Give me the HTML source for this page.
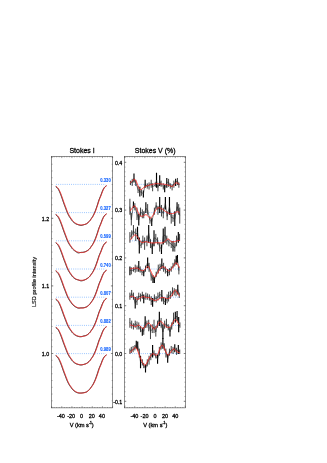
<!DOCTYPE html><html><head><meta charset="utf-8"><style>html,body{margin:0;padding:0;background:#fff}svg{display:block;will-change:transform;transform:translateZ(0)}</style></head><body><svg width="327" height="463" viewBox="0 0 327 463">
<rect width="100%" height="100%" fill="#fff"/>
<g fill="none" stroke="#333" stroke-width="0.5">
<path d="M51.60 156.50 v1.60 M51.60 407.85 v-1.60 M54.14 156.50 v0.80 M54.14 407.85 v-0.80 M56.68 156.50 v0.80 M56.68 407.85 v-0.80 M59.22 156.50 v0.80 M59.22 407.85 v-0.80 M61.77 156.50 v1.60 M61.77 407.85 v-1.60 M64.31 156.50 v0.80 M64.31 407.85 v-0.80 M66.85 156.50 v0.80 M66.85 407.85 v-0.80 M69.39 156.50 v0.80 M69.39 407.85 v-0.80 M71.93 156.50 v1.60 M71.93 407.85 v-1.60 M74.47 156.50 v0.80 M74.47 407.85 v-0.80 M77.02 156.50 v0.80 M77.02 407.85 v-0.80 M79.56 156.50 v0.80 M79.56 407.85 v-0.80 M82.10 156.50 v1.60 M82.10 407.85 v-1.60 M84.64 156.50 v0.80 M84.64 407.85 v-0.80 M87.18 156.50 v0.80 M87.18 407.85 v-0.80 M89.72 156.50 v0.80 M89.72 407.85 v-0.80 M92.27 156.50 v1.60 M92.27 407.85 v-1.60 M94.81 156.50 v0.80 M94.81 407.85 v-0.80 M97.35 156.50 v0.80 M97.35 407.85 v-0.80 M99.89 156.50 v0.80 M99.89 407.85 v-0.80 M102.43 156.50 v1.60 M102.43 407.85 v-1.60 M104.97 156.50 v0.80 M104.97 407.85 v-0.80 M107.52 156.50 v0.80 M107.52 407.85 v-0.80 M110.06 156.50 v0.80 M110.06 407.85 v-0.80 M112.60 156.50 v1.60 M112.60 407.85 v-1.60 M51.60 353.50 h1.7 M112.60 353.50 h-1.7 M51.60 285.90 h1.7 M112.60 285.90 h-1.7 M51.60 218.30 h1.7 M112.60 218.30 h-1.7 M51.60 407.58 h0.85 M112.60 407.58 h-0.85 M51.60 400.82 h0.85 M112.60 400.82 h-0.85 M51.60 394.06 h0.85 M112.60 394.06 h-0.85 M51.60 387.30 h0.85 M112.60 387.30 h-0.85 M51.60 380.54 h0.85 M112.60 380.54 h-0.85 M51.60 373.78 h0.85 M112.60 373.78 h-0.85 M51.60 367.02 h0.85 M112.60 367.02 h-0.85 M51.60 360.26 h0.85 M112.60 360.26 h-0.85 M51.60 353.50 h0.85 M112.60 353.50 h-0.85 M51.60 346.74 h0.85 M112.60 346.74 h-0.85 M51.60 339.98 h0.85 M112.60 339.98 h-0.85 M51.60 333.22 h0.85 M112.60 333.22 h-0.85 M51.60 326.46 h0.85 M112.60 326.46 h-0.85 M51.60 319.70 h0.85 M112.60 319.70 h-0.85 M51.60 312.94 h0.85 M112.60 312.94 h-0.85 M51.60 306.18 h0.85 M112.60 306.18 h-0.85 M51.60 299.42 h0.85 M112.60 299.42 h-0.85 M51.60 292.66 h0.85 M112.60 292.66 h-0.85 M51.60 285.90 h0.85 M112.60 285.90 h-0.85 M51.60 279.14 h0.85 M112.60 279.14 h-0.85 M51.60 272.38 h0.85 M112.60 272.38 h-0.85 M51.60 265.62 h0.85 M112.60 265.62 h-0.85 M51.60 258.86 h0.85 M112.60 258.86 h-0.85 M51.60 252.10 h0.85 M112.60 252.10 h-0.85 M51.60 245.34 h0.85 M112.60 245.34 h-0.85 M51.60 238.58 h0.85 M112.60 238.58 h-0.85 M51.60 231.82 h0.85 M112.60 231.82 h-0.85 M51.60 225.06 h0.85 M112.60 225.06 h-0.85 M51.60 218.30 h0.85 M112.60 218.30 h-0.85 M51.60 211.54 h0.85 M112.60 211.54 h-0.85 M51.60 204.78 h0.85 M112.60 204.78 h-0.85 M51.60 198.02 h0.85 M112.60 198.02 h-0.85 M51.60 191.26 h0.85 M112.60 191.26 h-0.85 M51.60 184.50 h0.85 M112.60 184.50 h-0.85 M51.60 177.74 h0.85 M112.60 177.74 h-0.85 M51.60 170.98 h0.85 M112.60 170.98 h-0.85 M51.60 164.22 h0.85 M112.60 164.22 h-0.85 M51.60 157.46 h0.85 M112.60 157.46 h-0.85"/>
<path d="M124.60 156.50 v1.60 M124.60 407.85 v-1.60 M127.13 156.50 v0.80 M127.13 407.85 v-0.80 M129.67 156.50 v0.80 M129.67 407.85 v-0.80 M132.20 156.50 v0.80 M132.20 407.85 v-0.80 M134.73 156.50 v1.60 M134.73 407.85 v-1.60 M137.27 156.50 v0.80 M137.27 407.85 v-0.80 M139.80 156.50 v0.80 M139.80 407.85 v-0.80 M142.33 156.50 v0.80 M142.33 407.85 v-0.80 M144.87 156.50 v1.60 M144.87 407.85 v-1.60 M147.40 156.50 v0.80 M147.40 407.85 v-0.80 M149.93 156.50 v0.80 M149.93 407.85 v-0.80 M152.47 156.50 v0.80 M152.47 407.85 v-0.80 M155.00 156.50 v1.60 M155.00 407.85 v-1.60 M157.53 156.50 v0.80 M157.53 407.85 v-0.80 M160.07 156.50 v0.80 M160.07 407.85 v-0.80 M162.60 156.50 v0.80 M162.60 407.85 v-0.80 M165.13 156.50 v1.60 M165.13 407.85 v-1.60 M167.67 156.50 v0.80 M167.67 407.85 v-0.80 M170.20 156.50 v0.80 M170.20 407.85 v-0.80 M172.73 156.50 v0.80 M172.73 407.85 v-0.80 M175.27 156.50 v1.60 M175.27 407.85 v-1.60 M177.80 156.50 v0.80 M177.80 407.85 v-0.80 M180.33 156.50 v0.80 M180.33 407.85 v-0.80 M182.87 156.50 v0.80 M182.87 407.85 v-0.80 M185.40 156.50 v1.60 M185.40 407.85 v-1.60 M124.60 401.30 h1.7 M185.40 401.30 h-1.7 M124.60 353.50 h1.7 M185.40 353.50 h-1.7 M124.60 305.70 h1.7 M185.40 305.70 h-1.7 M124.60 257.90 h1.7 M185.40 257.90 h-1.7 M124.60 210.10 h1.7 M185.40 210.10 h-1.7 M124.60 162.30 h1.7 M185.40 162.30 h-1.7 M124.60 406.08 h0.85 M185.40 406.08 h-0.85 M124.60 401.30 h0.85 M185.40 401.30 h-0.85 M124.60 396.52 h0.85 M185.40 396.52 h-0.85 M124.60 391.74 h0.85 M185.40 391.74 h-0.85 M124.60 386.96 h0.85 M185.40 386.96 h-0.85 M124.60 382.18 h0.85 M185.40 382.18 h-0.85 M124.60 377.40 h0.85 M185.40 377.40 h-0.85 M124.60 372.62 h0.85 M185.40 372.62 h-0.85 M124.60 367.84 h0.85 M185.40 367.84 h-0.85 M124.60 363.06 h0.85 M185.40 363.06 h-0.85 M124.60 358.28 h0.85 M185.40 358.28 h-0.85 M124.60 353.50 h0.85 M185.40 353.50 h-0.85 M124.60 348.72 h0.85 M185.40 348.72 h-0.85 M124.60 343.94 h0.85 M185.40 343.94 h-0.85 M124.60 339.16 h0.85 M185.40 339.16 h-0.85 M124.60 334.38 h0.85 M185.40 334.38 h-0.85 M124.60 329.60 h0.85 M185.40 329.60 h-0.85 M124.60 324.82 h0.85 M185.40 324.82 h-0.85 M124.60 320.04 h0.85 M185.40 320.04 h-0.85 M124.60 315.26 h0.85 M185.40 315.26 h-0.85 M124.60 310.48 h0.85 M185.40 310.48 h-0.85 M124.60 305.70 h0.85 M185.40 305.70 h-0.85 M124.60 300.92 h0.85 M185.40 300.92 h-0.85 M124.60 296.14 h0.85 M185.40 296.14 h-0.85 M124.60 291.36 h0.85 M185.40 291.36 h-0.85 M124.60 286.58 h0.85 M185.40 286.58 h-0.85 M124.60 281.80 h0.85 M185.40 281.80 h-0.85 M124.60 277.02 h0.85 M185.40 277.02 h-0.85 M124.60 272.24 h0.85 M185.40 272.24 h-0.85 M124.60 267.46 h0.85 M185.40 267.46 h-0.85 M124.60 262.68 h0.85 M185.40 262.68 h-0.85 M124.60 257.90 h0.85 M185.40 257.90 h-0.85 M124.60 253.12 h0.85 M185.40 253.12 h-0.85 M124.60 248.34 h0.85 M185.40 248.34 h-0.85 M124.60 243.56 h0.85 M185.40 243.56 h-0.85 M124.60 238.78 h0.85 M185.40 238.78 h-0.85 M124.60 234.00 h0.85 M185.40 234.00 h-0.85 M124.60 229.22 h0.85 M185.40 229.22 h-0.85 M124.60 224.44 h0.85 M185.40 224.44 h-0.85 M124.60 219.66 h0.85 M185.40 219.66 h-0.85 M124.60 214.88 h0.85 M185.40 214.88 h-0.85 M124.60 210.10 h0.85 M185.40 210.10 h-0.85 M124.60 205.32 h0.85 M185.40 205.32 h-0.85 M124.60 200.54 h0.85 M185.40 200.54 h-0.85 M124.60 195.76 h0.85 M185.40 195.76 h-0.85 M124.60 190.98 h0.85 M185.40 190.98 h-0.85 M124.60 186.20 h0.85 M185.40 186.20 h-0.85 M124.60 181.42 h0.85 M185.40 181.42 h-0.85 M124.60 176.64 h0.85 M185.40 176.64 h-0.85 M124.60 171.86 h0.85 M185.40 171.86 h-0.85 M124.60 167.08 h0.85 M185.40 167.08 h-0.85 M124.60 162.30 h0.85 M185.40 162.30 h-0.85 M124.60 157.52 h0.85 M185.40 157.52 h-0.85"/>
</g>
<g fill="none" stroke="#4a4a4a" stroke-width="0.62">
<rect x="51.60" y="156.50" width="61.00" height="251.35"/>
<rect x="124.60" y="156.50" width="60.80" height="251.35"/>
</g>
<g fill="none" stroke="#6aaaff" stroke-width="0.8" stroke-dasharray="0.8 1.35">
<path d="M56.10 184.40 H105.70"/>
<path d="M130.00 184.40 H180.00"/>
<path d="M56.10 212.60 H105.70"/>
<path d="M130.00 212.60 H180.00"/>
<path d="M56.10 240.80 H105.70"/>
<path d="M130.00 240.80 H180.00"/>
<path d="M56.10 269.00 H105.70"/>
<path d="M130.00 269.00 H180.00"/>
<path d="M56.10 297.20 H105.70"/>
<path d="M130.00 297.20 H180.00"/>
<path d="M56.10 325.40 H105.70"/>
<path d="M130.00 325.40 H180.00"/>
<path d="M56.10 353.60 H105.70"/>
<path d="M130.00 353.60 H180.00"/>
</g>
<path d="M55.60 186.34 L55.79 186.52 L56.04 186.75 L56.35 187.03 L56.68 187.34 L57.03 187.67 L57.38 188.04 L57.71 188.41 L58.00 188.80 L58.26 189.21 L58.51 189.64 L58.75 190.09 L58.99 190.56 L59.22 191.05 L59.44 191.55 L59.67 192.07 L59.90 192.60 L60.13 193.14 L60.36 193.70 L60.58 194.27 L60.81 194.86 L61.03 195.46 L61.25 196.07 L61.48 196.69 L61.70 197.31 L61.92 197.94 L62.15 198.58 L62.37 199.24 L62.59 199.90 L62.82 200.56 L63.04 201.23 L63.27 201.89 L63.50 202.54 L63.73 203.19 L63.97 203.84 L64.21 204.48 L64.45 205.13 L64.69 205.78 L64.93 206.41 L65.17 207.04 L65.40 207.66 L65.63 208.28 L65.86 208.89 L66.08 209.51 L66.31 210.11 L66.53 210.70 L66.75 211.28 L66.98 211.84 L67.20 212.38 L67.42 212.89 L67.65 213.39 L67.87 213.87 L68.09 214.34 L68.32 214.79 L68.54 215.23 L68.77 215.65 L69.00 216.07 L69.23 216.47 L69.47 216.85 L69.71 217.22 L69.95 217.58 L70.19 217.93 L70.43 218.27 L70.67 218.60 L70.90 218.94 L71.12 219.27 L71.33 219.59 L71.54 219.90 L71.74 220.21 L71.96 220.51 L72.18 220.81 L72.43 221.10 L72.70 221.40 L73.00 221.70 L73.33 222.00 L73.68 222.31 L74.04 222.61 L74.41 222.90 L74.78 223.17 L75.15 223.43 L75.50 223.65 L75.84 223.85 L76.18 224.02 L76.52 224.17 L76.85 224.30 L77.18 224.42 L77.52 224.53 L77.86 224.64 L78.20 224.75 L78.55 224.86 L78.90 224.98 L79.25 225.09 L79.60 225.20 L79.95 225.29 L80.30 225.36 L80.65 225.41 L81.00 225.42 L81.34 225.41 L81.68 225.36 L82.02 225.28 L82.35 225.19 L82.68 225.09 L83.02 224.98 L83.36 224.86 L83.70 224.76 L84.05 224.66 L84.40 224.57 L84.75 224.48 L85.10 224.38 L85.45 224.27 L85.80 224.14 L86.15 223.98 L86.50 223.79 L86.85 223.56 L87.20 223.30 L87.56 223.00 L87.91 222.69 L88.26 222.36 L88.59 222.03 L88.91 221.71 L89.20 221.40 L89.47 221.10 L89.71 220.80 L89.94 220.50 L90.15 220.20 L90.36 219.89 L90.56 219.58 L90.78 219.27 L91.00 218.94 L91.23 218.61 L91.46 218.29 L91.69 217.97 L91.92 217.64 L92.16 217.30 L92.40 216.92 L92.65 216.52 L92.90 216.07 L93.16 215.57 L93.43 215.04 L93.71 214.48 L93.99 213.88 L94.28 213.27 L94.56 212.64 L94.83 212.00 L95.10 211.35 L95.36 210.69 L95.62 210.01 L95.87 209.31 L96.12 208.59 L96.37 207.87 L96.62 207.15 L96.86 206.43 L97.10 205.72 L97.33 205.00 L97.56 204.28 L97.79 203.56 L98.01 202.84 L98.23 202.12 L98.45 201.42 L98.67 200.74 L98.90 200.08 L99.13 199.44 L99.37 198.83 L99.61 198.24 L99.85 197.66 L100.09 197.09 L100.33 196.52 L100.57 195.95 L100.80 195.36 L101.03 194.76 L101.26 194.15 L101.48 193.53 L101.71 192.91 L101.93 192.30 L102.15 191.72 L102.38 191.16 L102.60 190.65 L102.82 190.17 L103.05 189.71 L103.27 189.28 L103.49 188.87 L103.71 188.49 L103.94 188.13 L104.17 187.79 L104.40 187.47 L104.65 187.17 L104.93 186.89 L105.22 186.63 L105.51 186.40 L105.79 186.19 L106.04 186.01 L106.24 185.85 L106.40 185.73" fill="none" stroke="#000" stroke-width="0.85" stroke-linejoin="round"/>
<path d="M56.00 186.14 L56.19 186.32 L56.44 186.55 L56.75 186.83 L57.08 187.14 L57.43 187.47 L57.78 187.84 L58.11 188.21 L58.40 188.60 L58.66 189.01 L58.91 189.44 L59.15 189.89 L59.39 190.36 L59.62 190.85 L59.84 191.35 L60.07 191.87 L60.30 192.40 L60.53 192.94 L60.76 193.50 L60.98 194.07 L61.21 194.66 L61.43 195.26 L61.65 195.87 L61.88 196.49 L62.10 197.11 L62.32 197.74 L62.55 198.38 L62.77 199.04 L62.99 199.70 L63.22 200.36 L63.44 201.03 L63.67 201.69 L63.90 202.34 L64.13 202.99 L64.37 203.64 L64.61 204.28 L64.85 204.93 L65.09 205.58 L65.33 206.21 L65.57 206.84 L65.80 207.46 L66.03 208.08 L66.26 208.69 L66.48 209.31 L66.71 209.91 L66.93 210.50 L67.15 211.08 L67.38 211.64 L67.60 212.18 L67.82 212.69 L68.05 213.19 L68.27 213.67 L68.49 214.14 L68.72 214.59 L68.94 215.03 L69.17 215.45 L69.40 215.87 L69.63 216.27 L69.87 216.65 L70.11 217.02 L70.35 217.38 L70.59 217.73 L70.83 218.07 L71.07 218.40 L71.30 218.74 L71.52 219.07 L71.73 219.39 L71.94 219.70 L72.14 220.01 L72.36 220.31 L72.58 220.61 L72.83 220.90 L73.10 221.20 L73.40 221.50 L73.73 221.80 L74.08 222.11 L74.44 222.41 L74.81 222.70 L75.18 222.97 L75.55 223.23 L75.90 223.45 L76.24 223.65 L76.58 223.83 L76.92 223.99 L77.25 224.14 L77.58 224.27 L77.92 224.38 L78.26 224.49 L78.60 224.58 L78.95 224.66 L79.30 224.73 L79.65 224.78 L80.00 224.82 L80.35 224.85 L80.70 224.87 L81.05 224.88 L81.40 224.89 L81.74 224.88 L82.08 224.87 L82.42 224.85 L82.75 224.82 L83.08 224.78 L83.42 224.73 L83.76 224.66 L84.10 224.58 L84.45 224.49 L84.80 224.38 L85.15 224.27 L85.50 224.14 L85.85 223.99 L86.20 223.83 L86.55 223.65 L86.90 223.45 L87.25 223.23 L87.60 222.97 L87.96 222.70 L88.31 222.41 L88.66 222.11 L88.99 221.80 L89.31 221.50 L89.60 221.20 L89.87 220.90 L90.11 220.61 L90.34 220.31 L90.55 220.01 L90.76 219.70 L90.96 219.39 L91.18 219.07 L91.40 218.74 L91.63 218.41 L91.86 218.09 L92.09 217.77 L92.33 217.44 L92.56 217.10 L92.80 216.72 L93.05 216.32 L93.30 215.87 L93.56 215.37 L93.83 214.84 L94.11 214.28 L94.39 213.68 L94.68 213.07 L94.96 212.44 L95.23 211.80 L95.50 211.15 L95.76 210.49 L96.02 209.81 L96.27 209.11 L96.53 208.39 L96.77 207.67 L97.02 206.95 L97.26 206.23 L97.50 205.52 L97.73 204.80 L97.96 204.08 L98.19 203.36 L98.41 202.64 L98.63 201.92 L98.85 201.22 L99.07 200.54 L99.30 199.88 L99.53 199.24 L99.77 198.63 L100.01 198.04 L100.25 197.46 L100.49 196.89 L100.73 196.32 L100.97 195.75 L101.20 195.16 L101.43 194.56 L101.66 193.95 L101.88 193.33 L102.11 192.71 L102.33 192.10 L102.55 191.52 L102.78 190.96 L103.00 190.45 L103.22 189.97 L103.45 189.51 L103.67 189.08 L103.89 188.67 L104.11 188.29 L104.34 187.93 L104.57 187.59 L104.80 187.27 L105.05 186.97 L105.33 186.69 L105.62 186.43 L105.91 186.20 L106.19 185.99 L106.44 185.81 L106.64 185.65 L106.80 185.53" fill="none" stroke="#f42424" stroke-width="0.9" stroke-linejoin="round"/>
<path d="M55.60 214.52 L55.79 214.70 L56.04 214.93 L56.35 215.20 L56.68 215.50 L57.03 215.84 L57.38 216.19 L57.71 216.57 L58.00 216.95 L58.26 217.35 L58.51 217.77 L58.75 218.22 L58.99 218.68 L59.22 219.16 L59.44 219.66 L59.67 220.17 L59.90 220.69 L60.13 221.23 L60.36 221.78 L60.58 222.35 L60.81 222.93 L61.03 223.53 L61.25 224.13 L61.48 224.74 L61.70 225.35 L61.92 225.97 L62.15 226.61 L62.37 227.25 L62.59 227.90 L62.82 228.56 L63.04 229.21 L63.27 229.87 L63.50 230.51 L63.73 231.15 L63.97 231.79 L64.21 232.43 L64.45 233.07 L64.69 233.71 L64.93 234.34 L65.17 234.96 L65.40 235.57 L65.63 236.18 L65.86 236.79 L66.08 237.39 L66.31 237.99 L66.53 238.57 L66.75 239.14 L66.98 239.69 L67.20 240.23 L67.42 240.73 L67.65 241.23 L67.87 241.70 L68.09 242.16 L68.32 242.61 L68.54 243.04 L68.77 243.46 L69.00 243.87 L69.23 244.26 L69.47 244.64 L69.71 245.01 L69.95 245.36 L70.19 245.70 L70.43 246.04 L70.67 246.37 L70.90 246.70 L71.12 247.03 L71.33 247.34 L71.54 247.65 L71.74 247.95 L71.96 248.25 L72.18 248.55 L72.43 248.84 L72.70 249.13 L73.00 249.42 L73.33 249.72 L73.68 250.01 L74.04 250.30 L74.41 250.58 L74.78 250.86 L75.15 251.12 L75.50 251.36 L75.84 251.59 L76.18 251.83 L76.52 252.06 L76.85 252.27 L77.18 252.47 L77.52 252.63 L77.86 252.76 L78.20 252.85 L78.55 252.88 L78.90 252.86 L79.25 252.81 L79.60 252.72 L79.95 252.62 L80.30 252.52 L80.65 252.43 L81.00 252.37 L81.34 252.33 L81.68 252.31 L82.02 252.29 L82.35 252.27 L82.68 252.25 L83.02 252.22 L83.36 252.17 L83.70 252.11 L84.05 252.02 L84.40 251.92 L84.75 251.82 L85.10 251.70 L85.45 251.56 L85.80 251.41 L86.15 251.25 L86.50 251.07 L86.85 250.88 L87.20 250.66 L87.56 250.43 L87.91 250.19 L88.26 249.94 L88.59 249.67 L88.91 249.40 L89.20 249.13 L89.47 248.85 L89.71 248.57 L89.94 248.27 L90.15 247.97 L90.36 247.66 L90.56 247.35 L90.78 247.03 L91.00 246.70 L91.23 246.38 L91.46 246.06 L91.69 245.75 L91.92 245.42 L92.16 245.08 L92.40 244.71 L92.65 244.31 L92.90 243.87 L93.16 243.38 L93.43 242.85 L93.71 242.30 L93.99 241.71 L94.28 241.11 L94.56 240.48 L94.83 239.85 L95.10 239.21 L95.36 238.56 L95.62 237.89 L95.87 237.19 L96.12 236.49 L96.37 235.77 L96.62 235.06 L96.86 234.35 L97.10 233.65 L97.33 232.95 L97.56 232.23 L97.79 231.52 L98.01 230.81 L98.23 230.10 L98.45 229.41 L98.67 228.73 L98.90 228.08 L99.13 227.46 L99.37 226.85 L99.61 226.27 L99.85 225.70 L100.09 225.13 L100.33 224.57 L100.57 224.00 L100.80 223.43 L101.03 222.83 L101.26 222.23 L101.48 221.61 L101.71 221.00 L101.93 220.41 L102.15 219.83 L102.38 219.28 L102.60 218.77 L102.82 218.30 L103.05 217.85 L103.27 217.42 L103.49 217.02 L103.71 216.64 L103.94 216.28 L104.17 215.95 L104.40 215.63 L104.65 215.34 L104.93 215.06 L105.22 214.81 L105.51 214.58 L105.79 214.37 L106.04 214.19 L106.24 214.04 L106.40 213.91" fill="none" stroke="#000" stroke-width="0.85" stroke-linejoin="round"/>
<path d="M56.00 214.32 L56.19 214.50 L56.44 214.73 L56.75 215.00 L57.08 215.30 L57.43 215.64 L57.78 215.99 L58.11 216.37 L58.40 216.75 L58.66 217.15 L58.91 217.57 L59.15 218.02 L59.39 218.48 L59.62 218.96 L59.84 219.46 L60.07 219.97 L60.30 220.49 L60.53 221.03 L60.76 221.58 L60.98 222.15 L61.21 222.73 L61.43 223.33 L61.65 223.93 L61.88 224.54 L62.10 225.15 L62.32 225.77 L62.55 226.41 L62.77 227.05 L62.99 227.70 L63.22 228.36 L63.44 229.01 L63.67 229.67 L63.90 230.31 L64.13 230.95 L64.37 231.59 L64.61 232.23 L64.85 232.87 L65.09 233.51 L65.33 234.14 L65.57 234.76 L65.80 235.37 L66.03 235.98 L66.26 236.59 L66.48 237.19 L66.71 237.79 L66.93 238.37 L67.15 238.94 L67.38 239.49 L67.60 240.03 L67.82 240.53 L68.05 241.03 L68.27 241.50 L68.49 241.96 L68.72 242.41 L68.94 242.84 L69.17 243.26 L69.40 243.67 L69.63 244.06 L69.87 244.44 L70.11 244.81 L70.35 245.16 L70.59 245.50 L70.83 245.84 L71.07 246.17 L71.30 246.50 L71.52 246.83 L71.73 247.14 L71.94 247.45 L72.14 247.75 L72.36 248.05 L72.58 248.35 L72.83 248.64 L73.10 248.93 L73.40 249.23 L73.73 249.53 L74.08 249.83 L74.44 250.13 L74.81 250.41 L75.18 250.68 L75.55 250.93 L75.90 251.16 L76.24 251.36 L76.58 251.53 L76.92 251.69 L77.25 251.83 L77.58 251.96 L77.92 252.08 L78.26 252.18 L78.60 252.27 L78.95 252.35 L79.30 252.42 L79.65 252.47 L80.00 252.51 L80.35 252.54 L80.70 252.56 L81.05 252.57 L81.40 252.57 L81.74 252.57 L82.08 252.56 L82.42 252.54 L82.75 252.51 L83.08 252.47 L83.42 252.42 L83.76 252.35 L84.10 252.27 L84.45 252.18 L84.80 252.08 L85.15 251.96 L85.50 251.83 L85.85 251.69 L86.20 251.53 L86.55 251.36 L86.90 251.16 L87.25 250.93 L87.60 250.68 L87.96 250.41 L88.31 250.13 L88.66 249.83 L88.99 249.53 L89.31 249.23 L89.60 248.93 L89.87 248.64 L90.11 248.35 L90.34 248.05 L90.55 247.75 L90.76 247.45 L90.96 247.14 L91.18 246.83 L91.40 246.50 L91.63 246.18 L91.86 245.86 L92.09 245.55 L92.33 245.22 L92.56 244.88 L92.80 244.51 L93.05 244.11 L93.30 243.67 L93.56 243.18 L93.83 242.65 L94.11 242.10 L94.39 241.51 L94.68 240.91 L94.96 240.28 L95.23 239.65 L95.50 239.01 L95.76 238.36 L96.02 237.69 L96.27 236.99 L96.53 236.29 L96.77 235.57 L97.02 234.86 L97.26 234.15 L97.50 233.45 L97.73 232.75 L97.96 232.03 L98.19 231.32 L98.41 230.61 L98.63 229.90 L98.85 229.21 L99.07 228.53 L99.30 227.88 L99.53 227.26 L99.77 226.65 L100.01 226.07 L100.25 225.50 L100.49 224.93 L100.73 224.37 L100.97 223.80 L101.20 223.23 L101.43 222.63 L101.66 222.03 L101.88 221.41 L102.11 220.80 L102.33 220.21 L102.55 219.63 L102.78 219.08 L103.00 218.57 L103.22 218.10 L103.45 217.65 L103.67 217.22 L103.89 216.82 L104.11 216.44 L104.34 216.08 L104.57 215.75 L104.80 215.43 L105.05 215.14 L105.33 214.86 L105.62 214.61 L105.91 214.38 L106.19 214.17 L106.44 213.99 L106.64 213.84 L106.80 213.71" fill="none" stroke="#f42424" stroke-width="0.9" stroke-linejoin="round"/>
<path d="M55.60 242.70 L55.79 242.88 L56.04 243.10 L56.35 243.37 L56.68 243.67 L57.03 244.00 L57.38 244.35 L57.71 244.72 L58.00 245.10 L58.26 245.49 L58.51 245.91 L58.75 246.35 L58.99 246.81 L59.22 247.29 L59.44 247.78 L59.67 248.29 L59.90 248.80 L60.13 249.33 L60.36 249.88 L60.58 250.44 L60.81 251.01 L61.03 251.60 L61.25 252.19 L61.48 252.79 L61.70 253.40 L61.92 254.01 L62.15 254.64 L62.37 255.28 L62.59 255.92 L62.82 256.57 L63.04 257.22 L63.27 257.86 L63.50 258.50 L63.73 259.13 L63.97 259.77 L64.21 260.40 L64.45 261.03 L64.69 261.66 L64.93 262.28 L65.17 262.89 L65.40 263.50 L65.63 264.10 L65.86 264.70 L66.08 265.30 L66.31 265.89 L66.53 266.47 L66.75 267.03 L66.98 267.58 L67.20 268.10 L67.42 268.60 L67.65 269.09 L67.87 269.56 L68.09 270.01 L68.32 270.45 L68.54 270.88 L68.77 271.30 L69.00 271.70 L69.23 272.09 L69.47 272.47 L69.71 272.83 L69.95 273.17 L70.19 273.51 L70.43 273.85 L70.67 274.17 L70.90 274.50 L71.12 274.82 L71.33 275.13 L71.54 275.44 L71.74 275.74 L71.96 276.03 L72.18 276.32 L72.43 276.61 L72.70 276.90 L73.00 277.19 L73.33 277.50 L73.68 277.80 L74.04 278.10 L74.41 278.39 L74.78 278.65 L75.15 278.89 L75.50 279.10 L75.84 279.27 L76.18 279.40 L76.52 279.50 L76.85 279.59 L77.18 279.66 L77.52 279.73 L77.86 279.81 L78.20 279.91 L78.55 280.03 L78.90 280.17 L79.25 280.31 L79.60 280.46 L79.95 280.59 L80.30 280.70 L80.65 280.79 L81.00 280.83 L81.34 280.84 L81.68 280.82 L82.02 280.77 L82.35 280.70 L82.68 280.61 L83.02 280.51 L83.36 280.39 L83.70 280.27 L84.05 280.14 L84.40 280.00 L84.75 279.84 L85.10 279.67 L85.45 279.49 L85.80 279.29 L86.15 279.09 L86.50 278.88 L86.85 278.67 L87.20 278.44 L87.56 278.20 L87.91 277.96 L88.26 277.70 L88.59 277.44 L88.91 277.17 L89.20 276.90 L89.47 276.62 L89.71 276.34 L89.94 276.05 L90.15 275.75 L90.36 275.45 L90.56 275.14 L90.78 274.82 L91.00 274.50 L91.23 274.18 L91.46 273.87 L91.69 273.56 L91.92 273.24 L92.16 272.90 L92.40 272.54 L92.65 272.14 L92.90 271.70 L93.16 271.22 L93.43 270.70 L93.71 270.15 L93.99 269.57 L94.28 268.97 L94.56 268.36 L94.83 267.73 L95.10 267.10 L95.36 266.46 L95.62 265.79 L95.87 265.10 L96.12 264.41 L96.37 263.70 L96.62 263.00 L96.86 262.29 L97.10 261.60 L97.33 260.91 L97.56 260.20 L97.79 259.50 L98.01 258.79 L98.23 258.10 L98.45 257.41 L98.67 256.74 L98.90 256.10 L99.13 255.48 L99.37 254.89 L99.61 254.31 L99.85 253.74 L100.09 253.19 L100.33 252.63 L100.57 252.07 L100.80 251.50 L101.03 250.91 L101.26 250.31 L101.48 249.71 L101.71 249.11 L101.93 248.52 L102.15 247.94 L102.38 247.40 L102.60 246.90 L102.82 246.43 L103.05 245.99 L103.27 245.57 L103.49 245.17 L103.71 244.79 L103.94 244.44 L104.17 244.11 L104.40 243.80 L104.65 243.51 L104.93 243.24 L105.22 242.99 L105.51 242.76 L105.79 242.55 L106.04 242.37 L106.24 242.22 L106.40 242.10" fill="none" stroke="#000" stroke-width="0.85" stroke-linejoin="round"/>
<path d="M56.00 242.50 L56.19 242.68 L56.44 242.90 L56.75 243.17 L57.08 243.47 L57.43 243.80 L57.78 244.15 L58.11 244.52 L58.40 244.90 L58.66 245.29 L58.91 245.71 L59.15 246.15 L59.39 246.61 L59.62 247.09 L59.84 247.58 L60.07 248.09 L60.30 248.60 L60.53 249.13 L60.76 249.68 L60.98 250.24 L61.21 250.81 L61.43 251.40 L61.65 251.99 L61.88 252.59 L62.10 253.20 L62.32 253.81 L62.55 254.44 L62.77 255.08 L62.99 255.73 L63.22 256.37 L63.44 257.02 L63.67 257.66 L63.90 258.30 L64.13 258.93 L64.37 259.57 L64.61 260.20 L64.85 260.83 L65.09 261.46 L65.33 262.08 L65.57 262.69 L65.80 263.30 L66.03 263.90 L66.26 264.50 L66.48 265.10 L66.71 265.69 L66.93 266.27 L67.15 266.83 L67.38 267.38 L67.60 267.90 L67.82 268.40 L68.05 268.89 L68.27 269.36 L68.49 269.81 L68.72 270.25 L68.94 270.68 L69.17 271.10 L69.40 271.50 L69.63 271.89 L69.87 272.27 L70.11 272.63 L70.35 272.98 L70.59 273.31 L70.83 273.65 L71.07 273.97 L71.30 274.30 L71.52 274.62 L71.73 274.93 L71.94 275.24 L72.14 275.54 L72.36 275.83 L72.58 276.12 L72.83 276.41 L73.10 276.70 L73.40 276.99 L73.73 277.29 L74.08 277.59 L74.44 277.88 L74.81 278.16 L75.18 278.43 L75.55 278.68 L75.90 278.90 L76.24 279.10 L76.58 279.27 L76.92 279.43 L77.25 279.57 L77.58 279.69 L77.92 279.81 L78.26 279.91 L78.60 280.00 L78.95 280.08 L79.30 280.15 L79.65 280.20 L80.00 280.24 L80.35 280.27 L80.70 280.29 L81.05 280.30 L81.40 280.30 L81.74 280.30 L82.08 280.29 L82.42 280.27 L82.75 280.24 L83.08 280.20 L83.42 280.15 L83.76 280.08 L84.10 280.00 L84.45 279.91 L84.80 279.81 L85.15 279.69 L85.50 279.57 L85.85 279.43 L86.20 279.27 L86.55 279.10 L86.90 278.90 L87.25 278.68 L87.60 278.43 L87.96 278.16 L88.31 277.88 L88.66 277.59 L88.99 277.29 L89.31 276.99 L89.60 276.70 L89.87 276.41 L90.11 276.12 L90.34 275.83 L90.55 275.54 L90.76 275.24 L90.96 274.93 L91.18 274.62 L91.40 274.30 L91.63 273.98 L91.86 273.67 L92.09 273.36 L92.33 273.04 L92.56 272.70 L92.80 272.34 L93.05 271.94 L93.30 271.50 L93.56 271.02 L93.83 270.50 L94.11 269.95 L94.39 269.37 L94.68 268.77 L94.96 268.16 L95.23 267.53 L95.50 266.90 L95.76 266.26 L96.02 265.59 L96.27 264.90 L96.53 264.21 L96.77 263.50 L97.02 262.80 L97.26 262.09 L97.50 261.40 L97.73 260.71 L97.96 260.00 L98.19 259.30 L98.41 258.59 L98.63 257.90 L98.85 257.21 L99.07 256.54 L99.30 255.90 L99.53 255.28 L99.77 254.69 L100.01 254.11 L100.25 253.54 L100.49 252.99 L100.73 252.43 L100.97 251.87 L101.20 251.30 L101.43 250.71 L101.66 250.11 L101.88 249.51 L102.11 248.91 L102.33 248.32 L102.55 247.74 L102.78 247.20 L103.00 246.70 L103.22 246.23 L103.45 245.79 L103.67 245.37 L103.89 244.97 L104.11 244.59 L104.34 244.24 L104.57 243.91 L104.80 243.60 L105.05 243.31 L105.33 243.04 L105.62 242.79 L105.91 242.56 L106.19 242.35 L106.44 242.17 L106.64 242.02 L106.80 241.90" fill="none" stroke="#f42424" stroke-width="0.9" stroke-linejoin="round"/>
<path d="M55.60 270.88 L55.79 271.06 L56.04 271.28 L56.35 271.54 L56.68 271.84 L57.03 272.17 L57.38 272.52 L57.71 272.88 L58.00 273.26 L58.26 273.65 L58.51 274.06 L58.75 274.50 L58.99 274.95 L59.22 275.43 L59.44 275.91 L59.67 276.41 L59.90 276.92 L60.13 277.45 L60.36 277.99 L60.58 278.54 L60.81 279.11 L61.03 279.69 L61.25 280.28 L61.48 280.88 L61.70 281.48 L61.92 282.08 L62.15 282.71 L62.37 283.34 L62.59 283.98 L62.82 284.62 L63.04 285.26 L63.27 285.90 L63.50 286.52 L63.73 287.15 L63.97 287.78 L64.21 288.41 L64.45 289.03 L64.69 289.65 L64.93 290.27 L65.17 290.88 L65.40 291.47 L65.63 292.07 L65.86 292.66 L66.08 293.26 L66.31 293.84 L66.53 294.41 L66.75 294.97 L66.98 295.51 L67.20 296.03 L67.42 296.53 L67.65 297.01 L67.87 297.47 L68.09 297.92 L68.32 298.36 L68.54 298.78 L68.77 299.19 L69.00 299.59 L69.23 299.98 L69.47 300.35 L69.71 300.71 L69.95 301.05 L70.19 301.39 L70.43 301.72 L70.67 302.04 L70.90 302.37 L71.12 302.68 L71.33 302.99 L71.54 303.29 L71.74 303.59 L71.96 303.88 L72.18 304.17 L72.43 304.46 L72.70 304.74 L73.00 305.03 L73.33 305.32 L73.68 305.62 L74.04 305.90 L74.41 306.18 L74.78 306.45 L75.15 306.70 L75.50 306.92 L75.84 307.12 L76.18 307.32 L76.52 307.50 L76.85 307.67 L77.18 307.81 L77.52 307.94 L77.86 308.04 L78.20 308.11 L78.55 308.14 L78.90 308.14 L79.25 308.11 L79.60 308.05 L79.95 307.99 L80.30 307.93 L80.65 307.87 L81.00 307.84 L81.34 307.82 L81.68 307.81 L82.02 307.81 L82.35 307.81 L82.68 307.80 L83.02 307.79 L83.36 307.76 L83.70 307.71 L84.05 307.64 L84.40 307.57 L84.75 307.48 L85.10 307.39 L85.45 307.28 L85.80 307.15 L86.15 307.00 L86.50 306.83 L86.85 306.63 L87.20 306.40 L87.56 306.15 L87.91 305.88 L88.26 305.60 L88.59 305.31 L88.91 305.02 L89.20 304.74 L89.47 304.46 L89.71 304.18 L89.94 303.89 L90.15 303.60 L90.36 303.30 L90.56 302.99 L90.78 302.68 L91.00 302.37 L91.23 302.05 L91.46 301.74 L91.69 301.43 L91.92 301.12 L92.16 300.78 L92.40 300.42 L92.65 300.03 L92.90 299.59 L93.16 299.12 L93.43 298.60 L93.71 298.05 L93.99 297.48 L94.28 296.89 L94.56 296.28 L94.83 295.66 L95.10 295.04 L95.36 294.40 L95.62 293.74 L95.87 293.06 L96.12 292.37 L96.37 291.68 L96.62 290.98 L96.86 290.28 L97.10 289.59 L97.33 288.91 L97.56 288.21 L97.79 287.51 L98.01 286.82 L98.23 286.13 L98.45 285.45 L98.67 284.79 L98.90 284.15 L99.13 283.54 L99.37 282.95 L99.61 282.38 L99.85 281.82 L100.09 281.26 L100.33 280.71 L100.57 280.16 L100.80 279.59 L101.03 279.02 L101.26 278.42 L101.48 277.82 L101.71 277.23 L101.93 276.64 L102.15 276.08 L102.38 275.54 L102.60 275.04 L102.82 274.58 L103.05 274.14 L103.27 273.72 L103.49 273.33 L103.71 272.96 L103.94 272.61 L104.17 272.28 L104.40 271.97 L104.65 271.68 L104.93 271.41 L105.22 271.17 L105.51 270.94 L105.79 270.74 L106.04 270.56 L106.24 270.41 L106.40 270.29" fill="none" stroke="#000" stroke-width="0.85" stroke-linejoin="round"/>
<path d="M56.00 270.68 L56.19 270.86 L56.44 271.08 L56.75 271.34 L57.08 271.64 L57.43 271.97 L57.78 272.32 L58.11 272.68 L58.40 273.06 L58.66 273.45 L58.91 273.86 L59.15 274.30 L59.39 274.75 L59.62 275.23 L59.84 275.71 L60.07 276.21 L60.30 276.72 L60.53 277.25 L60.76 277.79 L60.98 278.34 L61.21 278.91 L61.43 279.49 L61.65 280.08 L61.88 280.68 L62.10 281.28 L62.32 281.88 L62.55 282.51 L62.77 283.14 L62.99 283.78 L63.22 284.42 L63.44 285.06 L63.67 285.70 L63.90 286.32 L64.13 286.95 L64.37 287.58 L64.61 288.21 L64.85 288.83 L65.09 289.45 L65.33 290.07 L65.57 290.68 L65.80 291.27 L66.03 291.87 L66.26 292.46 L66.48 293.06 L66.71 293.64 L66.93 294.21 L67.15 294.77 L67.38 295.31 L67.60 295.83 L67.82 296.33 L68.05 296.81 L68.27 297.27 L68.49 297.72 L68.72 298.16 L68.94 298.58 L69.17 298.99 L69.40 299.39 L69.63 299.78 L69.87 300.15 L70.11 300.51 L70.35 300.85 L70.59 301.19 L70.83 301.52 L71.07 301.84 L71.30 302.17 L71.52 302.48 L71.73 302.79 L71.94 303.09 L72.14 303.39 L72.36 303.68 L72.58 303.97 L72.83 304.26 L73.10 304.54 L73.40 304.83 L73.73 305.12 L74.08 305.42 L74.44 305.71 L74.81 305.99 L75.18 306.26 L75.55 306.50 L75.90 306.72 L76.24 306.91 L76.58 307.09 L76.92 307.24 L77.25 307.38 L77.58 307.51 L77.92 307.62 L78.26 307.72 L78.60 307.81 L78.95 307.89 L79.30 307.95 L79.65 308.00 L80.00 308.04 L80.35 308.07 L80.70 308.09 L81.05 308.10 L81.40 308.11 L81.74 308.10 L82.08 308.09 L82.42 308.07 L82.75 308.04 L83.08 308.00 L83.42 307.95 L83.76 307.89 L84.10 307.81 L84.45 307.72 L84.80 307.62 L85.15 307.51 L85.50 307.38 L85.85 307.24 L86.20 307.09 L86.55 306.91 L86.90 306.72 L87.25 306.50 L87.60 306.26 L87.96 305.99 L88.31 305.71 L88.66 305.42 L88.99 305.12 L89.31 304.83 L89.60 304.54 L89.87 304.26 L90.11 303.97 L90.34 303.68 L90.55 303.39 L90.76 303.09 L90.96 302.79 L91.18 302.48 L91.40 302.17 L91.63 301.85 L91.86 301.54 L92.09 301.23 L92.33 300.92 L92.56 300.58 L92.80 300.22 L93.05 299.83 L93.30 299.39 L93.56 298.92 L93.83 298.40 L94.11 297.85 L94.39 297.28 L94.68 296.69 L94.96 296.08 L95.23 295.46 L95.50 294.84 L95.76 294.20 L96.02 293.54 L96.27 292.86 L96.53 292.17 L96.77 291.48 L97.02 290.78 L97.26 290.08 L97.50 289.39 L97.73 288.71 L97.96 288.01 L98.19 287.31 L98.41 286.62 L98.63 285.93 L98.85 285.25 L99.07 284.59 L99.30 283.95 L99.53 283.34 L99.77 282.75 L100.01 282.18 L100.25 281.62 L100.49 281.06 L100.73 280.51 L100.97 279.96 L101.20 279.39 L101.43 278.82 L101.66 278.22 L101.88 277.62 L102.11 277.03 L102.33 276.44 L102.55 275.88 L102.78 275.34 L103.00 274.84 L103.22 274.38 L103.45 273.94 L103.67 273.52 L103.89 273.13 L104.11 272.76 L104.34 272.41 L104.57 272.08 L104.80 271.77 L105.05 271.48 L105.33 271.21 L105.62 270.97 L105.91 270.74 L106.19 270.54 L106.44 270.36 L106.64 270.21 L106.80 270.09" fill="none" stroke="#f42424" stroke-width="0.9" stroke-linejoin="round"/>
<path d="M55.60 299.09 L55.79 299.27 L56.04 299.49 L56.35 299.76 L56.68 300.06 L57.03 300.38 L57.38 300.74 L57.71 301.10 L58.00 301.48 L58.26 301.87 L58.51 302.29 L58.75 302.73 L58.99 303.18 L59.22 303.66 L59.44 304.15 L59.67 304.65 L59.90 305.16 L60.13 305.69 L60.36 306.23 L60.58 306.79 L60.81 307.36 L61.03 307.95 L61.25 308.54 L61.48 309.14 L61.70 309.74 L61.92 310.35 L62.15 310.97 L62.37 311.61 L62.59 312.25 L62.82 312.89 L63.04 313.54 L63.27 314.18 L63.50 314.81 L63.73 315.44 L63.97 316.07 L64.21 316.70 L64.45 317.33 L64.69 317.96 L64.93 318.57 L65.17 319.19 L65.40 319.79 L65.63 320.39 L65.86 320.98 L66.08 321.58 L66.31 322.16 L66.53 322.74 L66.75 323.30 L66.98 323.84 L67.20 324.36 L67.42 324.87 L67.65 325.35 L67.87 325.82 L68.09 326.27 L68.32 326.71 L68.54 327.13 L68.77 327.54 L69.00 327.95 L69.23 328.34 L69.47 328.71 L69.71 329.07 L69.95 329.41 L70.19 329.75 L70.43 330.08 L70.67 330.41 L70.90 330.73 L71.12 331.05 L71.33 331.36 L71.54 331.67 L71.74 331.96 L71.96 332.26 L72.18 332.55 L72.43 332.83 L72.70 333.12 L73.00 333.41 L73.33 333.71 L73.68 334.00 L74.04 334.29 L74.41 334.58 L74.78 334.84 L75.15 335.09 L75.50 335.31 L75.84 335.51 L76.18 335.68 L76.52 335.84 L76.85 335.98 L77.18 336.11 L77.52 336.23 L77.86 336.33 L78.20 336.43 L78.55 336.51 L78.90 336.59 L79.25 336.66 L79.60 336.71 L79.95 336.75 L80.30 336.77 L80.65 336.77 L81.00 336.75 L81.34 336.70 L81.68 336.62 L82.02 336.52 L82.35 336.40 L82.68 336.27 L83.02 336.14 L83.36 336.02 L83.70 335.92 L84.05 335.83 L84.40 335.77 L84.75 335.71 L85.10 335.65 L85.45 335.58 L85.80 335.49 L86.15 335.38 L86.50 335.22 L86.85 335.03 L87.20 334.80 L87.56 334.55 L87.91 334.28 L88.26 333.99 L88.59 333.70 L88.91 333.41 L89.20 333.12 L89.47 332.84 L89.71 332.55 L89.94 332.26 L90.15 331.97 L90.36 331.67 L90.56 331.36 L90.78 331.05 L91.00 330.73 L91.23 330.42 L91.46 330.11 L91.69 329.80 L91.92 329.48 L92.16 329.14 L92.40 328.78 L92.65 328.38 L92.90 327.95 L93.16 327.47 L93.43 326.95 L93.71 326.40 L93.99 325.83 L94.28 325.23 L94.56 324.62 L94.83 324.00 L95.10 323.37 L95.36 322.73 L95.62 322.06 L95.87 321.38 L96.12 320.69 L96.37 319.99 L96.62 319.29 L96.86 318.59 L97.10 317.90 L97.33 317.21 L97.56 316.51 L97.79 315.81 L98.01 315.10 L98.23 314.41 L98.45 313.73 L98.67 313.07 L98.90 312.42 L99.13 311.81 L99.37 311.22 L99.61 310.64 L99.85 310.08 L100.09 309.52 L100.33 308.97 L100.57 308.41 L100.80 307.85 L101.03 307.27 L101.26 306.67 L101.48 306.07 L101.71 305.47 L101.93 304.88 L102.15 304.31 L102.38 303.77 L102.60 303.27 L102.82 302.80 L103.05 302.36 L103.27 301.94 L103.49 301.55 L103.71 301.18 L103.94 300.82 L104.17 300.49 L104.40 300.19 L104.65 299.90 L104.93 299.63 L105.22 299.38 L105.51 299.15 L105.79 298.94 L106.04 298.77 L106.24 298.62 L106.40 298.49" fill="none" stroke="#000" stroke-width="0.85" stroke-linejoin="round"/>
<path d="M56.00 298.89 L56.19 299.07 L56.44 299.29 L56.75 299.56 L57.08 299.86 L57.43 300.18 L57.78 300.54 L58.11 300.90 L58.40 301.28 L58.66 301.67 L58.91 302.09 L59.15 302.53 L59.39 302.98 L59.62 303.46 L59.84 303.95 L60.07 304.45 L60.30 304.96 L60.53 305.49 L60.76 306.03 L60.98 306.59 L61.21 307.16 L61.43 307.75 L61.65 308.34 L61.88 308.94 L62.10 309.54 L62.32 310.15 L62.55 310.77 L62.77 311.41 L62.99 312.05 L63.22 312.69 L63.44 313.34 L63.67 313.98 L63.90 314.61 L64.13 315.24 L64.37 315.87 L64.61 316.50 L64.85 317.13 L65.09 317.76 L65.33 318.37 L65.57 318.99 L65.80 319.59 L66.03 320.19 L66.26 320.78 L66.48 321.38 L66.71 321.96 L66.93 322.54 L67.15 323.10 L67.38 323.64 L67.60 324.16 L67.82 324.67 L68.05 325.15 L68.27 325.62 L68.49 326.07 L68.72 326.51 L68.94 326.93 L69.17 327.34 L69.40 327.75 L69.63 328.14 L69.87 328.51 L70.11 328.87 L70.35 329.21 L70.59 329.55 L70.83 329.88 L71.07 330.21 L71.30 330.53 L71.52 330.85 L71.73 331.16 L71.94 331.47 L72.14 331.76 L72.36 332.06 L72.58 332.35 L72.83 332.63 L73.10 332.92 L73.40 333.21 L73.73 333.51 L74.08 333.80 L74.44 334.10 L74.81 334.38 L75.18 334.64 L75.55 334.89 L75.90 335.11 L76.24 335.30 L76.58 335.48 L76.92 335.64 L77.25 335.77 L77.58 335.90 L77.92 336.01 L78.26 336.11 L78.60 336.20 L78.95 336.28 L79.30 336.35 L79.65 336.40 L80.00 336.44 L80.35 336.47 L80.70 336.49 L81.05 336.50 L81.40 336.50 L81.74 336.50 L82.08 336.49 L82.42 336.47 L82.75 336.44 L83.08 336.40 L83.42 336.35 L83.76 336.28 L84.10 336.20 L84.45 336.11 L84.80 336.01 L85.15 335.90 L85.50 335.77 L85.85 335.64 L86.20 335.48 L86.55 335.30 L86.90 335.11 L87.25 334.89 L87.60 334.64 L87.96 334.38 L88.31 334.10 L88.66 333.80 L88.99 333.51 L89.31 333.21 L89.60 332.92 L89.87 332.63 L90.11 332.35 L90.34 332.06 L90.55 331.76 L90.76 331.47 L90.96 331.16 L91.18 330.85 L91.40 330.53 L91.63 330.22 L91.86 329.91 L92.09 329.60 L92.33 329.28 L92.56 328.94 L92.80 328.58 L93.05 328.18 L93.30 327.75 L93.56 327.27 L93.83 326.75 L94.11 326.20 L94.39 325.63 L94.68 325.03 L94.96 324.42 L95.23 323.80 L95.50 323.17 L95.76 322.53 L96.02 321.86 L96.27 321.18 L96.53 320.49 L96.77 319.79 L97.02 319.09 L97.26 318.39 L97.50 317.70 L97.73 317.01 L97.96 316.31 L98.19 315.61 L98.41 314.90 L98.63 314.21 L98.85 313.53 L99.07 312.87 L99.30 312.22 L99.53 311.61 L99.77 311.02 L100.01 310.44 L100.25 309.88 L100.49 309.32 L100.73 308.77 L100.97 308.21 L101.20 307.65 L101.43 307.07 L101.66 306.47 L101.88 305.87 L102.11 305.27 L102.33 304.68 L102.55 304.11 L102.78 303.57 L103.00 303.07 L103.22 302.60 L103.45 302.16 L103.67 301.74 L103.89 301.35 L104.11 300.98 L104.34 300.62 L104.57 300.29 L104.80 299.99 L105.05 299.70 L105.33 299.43 L105.62 299.18 L105.91 298.95 L106.19 298.74 L106.44 298.57 L106.64 298.42 L106.80 298.29" fill="none" stroke="#f42424" stroke-width="0.9" stroke-linejoin="round"/>
<path d="M55.60 327.29 L55.79 327.47 L56.04 327.69 L56.35 327.96 L56.68 328.26 L57.03 328.58 L57.38 328.94 L57.71 329.30 L58.00 329.68 L58.26 330.07 L58.51 330.49 L58.75 330.93 L58.99 331.38 L59.22 331.86 L59.44 332.35 L59.67 332.85 L59.90 333.36 L60.13 333.89 L60.36 334.43 L60.58 334.99 L60.81 335.56 L61.03 336.15 L61.25 336.74 L61.48 337.34 L61.70 337.94 L61.92 338.55 L62.15 339.17 L62.37 339.81 L62.59 340.45 L62.82 341.09 L63.04 341.74 L63.27 342.38 L63.50 343.01 L63.73 343.64 L63.97 344.27 L64.21 344.90 L64.45 345.53 L64.69 346.16 L64.93 346.77 L65.17 347.39 L65.40 347.99 L65.63 348.59 L65.86 349.18 L66.08 349.78 L66.31 350.36 L66.53 350.94 L66.75 351.50 L66.98 352.04 L67.20 352.56 L67.42 353.07 L67.65 353.55 L67.87 354.02 L68.09 354.47 L68.32 354.91 L68.54 355.33 L68.77 355.74 L69.00 356.15 L69.23 356.54 L69.47 356.91 L69.71 357.27 L69.95 357.61 L70.19 357.95 L70.43 358.28 L70.67 358.61 L70.90 358.93 L71.12 359.25 L71.33 359.56 L71.54 359.87 L71.74 360.16 L71.96 360.46 L72.18 360.75 L72.43 361.03 L72.70 361.32 L73.00 361.61 L73.33 361.91 L73.68 362.21 L74.04 362.50 L74.41 362.79 L74.78 363.05 L75.15 363.30 L75.50 363.51 L75.84 363.69 L76.18 363.85 L76.52 363.98 L76.85 364.10 L77.18 364.20 L77.52 364.29 L77.86 364.38 L78.20 364.47 L78.55 364.57 L78.90 364.66 L79.25 364.75 L79.60 364.83 L79.95 364.90 L80.30 364.96 L80.65 364.99 L81.00 365.00 L81.34 364.98 L81.68 364.94 L82.02 364.88 L82.35 364.80 L82.68 364.71 L83.02 364.61 L83.36 364.51 L83.70 364.40 L84.05 364.30 L84.40 364.20 L84.75 364.10 L85.10 363.99 L85.45 363.86 L85.80 363.72 L86.15 363.57 L86.50 363.39 L86.85 363.18 L87.20 362.95 L87.56 362.70 L87.91 362.44 L88.26 362.16 L88.59 361.88 L88.91 361.60 L89.20 361.32 L89.47 361.04 L89.71 360.76 L89.94 360.47 L90.15 360.17 L90.36 359.87 L90.56 359.57 L90.78 359.25 L91.00 358.93 L91.23 358.62 L91.46 358.31 L91.69 358.00 L91.92 357.68 L92.16 357.34 L92.40 356.98 L92.65 356.58 L92.90 356.15 L93.16 355.67 L93.43 355.15 L93.71 354.60 L93.99 354.03 L94.28 353.43 L94.56 352.82 L94.83 352.20 L95.10 351.57 L95.36 350.93 L95.62 350.26 L95.87 349.58 L96.12 348.89 L96.37 348.19 L96.62 347.49 L96.86 346.79 L97.10 346.10 L97.33 345.41 L97.56 344.71 L97.79 344.01 L98.01 343.30 L98.23 342.61 L98.45 341.93 L98.67 341.27 L98.90 340.62 L99.13 340.01 L99.37 339.42 L99.61 338.84 L99.85 338.28 L100.09 337.72 L100.33 337.17 L100.57 336.61 L100.80 336.05 L101.03 335.47 L101.26 334.87 L101.48 334.27 L101.71 333.67 L101.93 333.08 L102.15 332.51 L102.38 331.97 L102.60 331.47 L102.82 331.00 L103.05 330.56 L103.27 330.14 L103.49 329.75 L103.71 329.38 L103.94 329.02 L104.17 328.69 L104.40 328.39 L104.65 328.10 L104.93 327.83 L105.22 327.58 L105.51 327.35 L105.79 327.14 L106.04 326.97 L106.24 326.82 L106.40 326.69" fill="none" stroke="#000" stroke-width="0.85" stroke-linejoin="round"/>
<path d="M56.00 327.09 L56.19 327.27 L56.44 327.49 L56.75 327.76 L57.08 328.06 L57.43 328.38 L57.78 328.74 L58.11 329.10 L58.40 329.48 L58.66 329.87 L58.91 330.29 L59.15 330.73 L59.39 331.18 L59.62 331.66 L59.84 332.15 L60.07 332.65 L60.30 333.16 L60.53 333.69 L60.76 334.23 L60.98 334.79 L61.21 335.36 L61.43 335.95 L61.65 336.54 L61.88 337.14 L62.10 337.74 L62.32 338.35 L62.55 338.97 L62.77 339.61 L62.99 340.25 L63.22 340.89 L63.44 341.54 L63.67 342.18 L63.90 342.81 L64.13 343.44 L64.37 344.07 L64.61 344.70 L64.85 345.33 L65.09 345.96 L65.33 346.57 L65.57 347.19 L65.80 347.79 L66.03 348.39 L66.26 348.98 L66.48 349.58 L66.71 350.16 L66.93 350.74 L67.15 351.30 L67.38 351.84 L67.60 352.36 L67.82 352.87 L68.05 353.35 L68.27 353.82 L68.49 354.27 L68.72 354.71 L68.94 355.13 L69.17 355.54 L69.40 355.95 L69.63 356.34 L69.87 356.71 L70.11 357.07 L70.35 357.41 L70.59 357.75 L70.83 358.08 L71.07 358.41 L71.30 358.73 L71.52 359.05 L71.73 359.36 L71.94 359.67 L72.14 359.96 L72.36 360.26 L72.58 360.55 L72.83 360.83 L73.10 361.12 L73.40 361.41 L73.73 361.71 L74.08 362.00 L74.44 362.30 L74.81 362.58 L75.18 362.84 L75.55 363.09 L75.90 363.31 L76.24 363.50 L76.58 363.68 L76.92 363.84 L77.25 363.97 L77.58 364.10 L77.92 364.21 L78.26 364.31 L78.60 364.40 L78.95 364.48 L79.30 364.55 L79.65 364.60 L80.00 364.64 L80.35 364.67 L80.70 364.69 L81.05 364.70 L81.40 364.70 L81.74 364.70 L82.08 364.69 L82.42 364.67 L82.75 364.64 L83.08 364.60 L83.42 364.55 L83.76 364.48 L84.10 364.40 L84.45 364.31 L84.80 364.21 L85.15 364.10 L85.50 363.97 L85.85 363.84 L86.20 363.68 L86.55 363.50 L86.90 363.31 L87.25 363.09 L87.60 362.84 L87.96 362.58 L88.31 362.30 L88.66 362.00 L88.99 361.71 L89.31 361.41 L89.60 361.12 L89.87 360.83 L90.11 360.55 L90.34 360.26 L90.55 359.96 L90.76 359.67 L90.96 359.36 L91.18 359.05 L91.40 358.73 L91.63 358.42 L91.86 358.11 L92.09 357.80 L92.33 357.48 L92.56 357.14 L92.80 356.78 L93.05 356.38 L93.30 355.95 L93.56 355.47 L93.83 354.95 L94.11 354.40 L94.39 353.83 L94.68 353.23 L94.96 352.62 L95.23 352.00 L95.50 351.37 L95.76 350.73 L96.02 350.06 L96.27 349.38 L96.53 348.69 L96.77 347.99 L97.02 347.29 L97.26 346.59 L97.50 345.90 L97.73 345.21 L97.96 344.51 L98.19 343.81 L98.41 343.10 L98.63 342.41 L98.85 341.73 L99.07 341.07 L99.30 340.42 L99.53 339.81 L99.77 339.22 L100.01 338.64 L100.25 338.08 L100.49 337.52 L100.73 336.97 L100.97 336.41 L101.20 335.85 L101.43 335.27 L101.66 334.67 L101.88 334.07 L102.11 333.47 L102.33 332.88 L102.55 332.31 L102.78 331.77 L103.00 331.27 L103.22 330.80 L103.45 330.36 L103.67 329.94 L103.89 329.55 L104.11 329.18 L104.34 328.82 L104.57 328.49 L104.80 328.19 L105.05 327.90 L105.33 327.63 L105.62 327.38 L105.91 327.15 L106.19 326.94 L106.44 326.77 L106.64 326.62 L106.80 326.49" fill="none" stroke="#f42424" stroke-width="0.9" stroke-linejoin="round"/>
<path d="M55.60 355.50 L55.79 355.68 L56.04 355.90 L56.35 356.17 L56.68 356.47 L57.03 356.80 L57.38 357.15 L57.71 357.52 L58.00 357.90 L58.26 358.29 L58.51 358.71 L58.75 359.15 L58.99 359.61 L59.22 360.09 L59.44 360.58 L59.67 361.09 L59.90 361.60 L60.13 362.13 L60.36 362.68 L60.58 363.24 L60.81 363.81 L61.03 364.40 L61.25 364.99 L61.48 365.59 L61.70 366.20 L61.92 366.81 L62.15 367.44 L62.37 368.08 L62.59 368.72 L62.82 369.37 L63.04 370.02 L63.27 370.66 L63.50 371.30 L63.73 371.93 L63.97 372.57 L64.21 373.20 L64.45 373.83 L64.69 374.46 L64.93 375.08 L65.17 375.69 L65.40 376.30 L65.63 376.90 L65.86 377.50 L66.08 378.10 L66.31 378.69 L66.53 379.27 L66.75 379.83 L66.98 380.38 L67.20 380.90 L67.42 381.40 L67.65 381.89 L67.87 382.36 L68.09 382.81 L68.32 383.25 L68.54 383.68 L68.77 384.10 L69.00 384.50 L69.23 384.89 L69.47 385.27 L69.71 385.63 L69.95 385.98 L70.19 386.31 L70.43 386.65 L70.67 386.97 L70.90 387.30 L71.12 387.62 L71.33 387.93 L71.54 388.24 L71.74 388.54 L71.96 388.83 L72.18 389.12 L72.43 389.41 L72.70 389.70 L73.00 389.99 L73.33 390.29 L73.68 390.59 L74.04 390.88 L74.41 391.17 L74.78 391.44 L75.15 391.68 L75.50 391.90 L75.84 392.09 L76.18 392.27 L76.52 392.42 L76.85 392.56 L77.18 392.68 L77.52 392.78 L77.86 392.87 L78.20 392.95 L78.55 393.01 L78.90 393.05 L79.25 393.07 L79.60 393.08 L79.95 393.08 L80.30 393.06 L80.65 393.05 L81.00 393.03 L81.34 393.00 L81.68 392.96 L82.02 392.92 L82.35 392.87 L82.68 392.81 L83.02 392.75 L83.36 392.69 L83.70 392.62 L84.05 392.56 L84.40 392.50 L84.75 392.45 L85.10 392.39 L85.45 392.31 L85.80 392.22 L86.15 392.09 L86.50 391.93 L86.85 391.73 L87.20 391.48 L87.56 391.21 L87.91 390.92 L88.26 390.62 L88.59 390.31 L88.91 390.00 L89.20 389.70 L89.47 389.41 L89.71 389.12 L89.94 388.83 L90.15 388.54 L90.36 388.24 L90.56 387.93 L90.78 387.62 L91.00 387.30 L91.23 386.98 L91.46 386.67 L91.69 386.36 L91.92 386.04 L92.16 385.70 L92.40 385.34 L92.65 384.94 L92.90 384.50 L93.16 384.02 L93.43 383.50 L93.71 382.95 L93.99 382.37 L94.28 381.77 L94.56 381.16 L94.83 380.53 L95.10 379.90 L95.36 379.26 L95.62 378.59 L95.87 377.90 L96.12 377.21 L96.37 376.50 L96.62 375.80 L96.86 375.09 L97.10 374.40 L97.33 373.71 L97.56 373.00 L97.79 372.30 L98.01 371.59 L98.23 370.90 L98.45 370.21 L98.67 369.54 L98.90 368.90 L99.13 368.28 L99.37 367.69 L99.61 367.11 L99.85 366.54 L100.09 365.99 L100.33 365.43 L100.57 364.87 L100.80 364.30 L101.03 363.71 L101.26 363.11 L101.48 362.51 L101.71 361.91 L101.93 361.32 L102.15 360.74 L102.38 360.20 L102.60 359.70 L102.82 359.23 L103.05 358.79 L103.27 358.37 L103.49 357.97 L103.71 357.59 L103.94 357.24 L104.17 356.91 L104.40 356.60 L104.65 356.31 L104.93 356.04 L105.22 355.79 L105.51 355.56 L105.79 355.35 L106.04 355.17 L106.24 355.02 L106.40 354.90" fill="none" stroke="#000" stroke-width="0.85" stroke-linejoin="round"/>
<path d="M56.00 355.30 L56.19 355.48 L56.44 355.70 L56.75 355.97 L57.08 356.27 L57.43 356.60 L57.78 356.95 L58.11 357.32 L58.40 357.70 L58.66 358.09 L58.91 358.51 L59.15 358.95 L59.39 359.41 L59.62 359.89 L59.84 360.38 L60.07 360.89 L60.30 361.40 L60.53 361.93 L60.76 362.47 L60.98 363.04 L61.21 363.61 L61.43 364.20 L61.65 364.79 L61.88 365.39 L62.10 366.00 L62.32 366.61 L62.55 367.24 L62.77 367.88 L62.99 368.53 L63.22 369.17 L63.44 369.82 L63.67 370.46 L63.90 371.10 L64.13 371.73 L64.37 372.37 L64.61 373.00 L64.85 373.63 L65.09 374.26 L65.33 374.88 L65.57 375.49 L65.80 376.10 L66.03 376.70 L66.26 377.30 L66.48 377.90 L66.71 378.49 L66.93 379.07 L67.15 379.63 L67.38 380.18 L67.60 380.70 L67.82 381.20 L68.05 381.69 L68.27 382.16 L68.49 382.61 L68.72 383.05 L68.94 383.48 L69.17 383.90 L69.40 384.30 L69.63 384.69 L69.87 385.07 L70.11 385.43 L70.35 385.77 L70.59 386.11 L70.83 386.45 L71.07 386.77 L71.30 387.10 L71.52 387.42 L71.73 387.73 L71.94 388.04 L72.14 388.34 L72.36 388.63 L72.58 388.92 L72.83 389.21 L73.10 389.50 L73.40 389.79 L73.73 390.09 L74.08 390.39 L74.44 390.68 L74.81 390.96 L75.18 391.23 L75.55 391.48 L75.90 391.70 L76.24 391.90 L76.58 392.07 L76.92 392.23 L77.25 392.37 L77.58 392.49 L77.92 392.61 L78.26 392.71 L78.60 392.80 L78.95 392.88 L79.30 392.95 L79.65 393.00 L80.00 393.04 L80.35 393.07 L80.70 393.09 L81.05 393.10 L81.40 393.10 L81.74 393.10 L82.08 393.09 L82.42 393.07 L82.75 393.04 L83.08 393.00 L83.42 392.95 L83.76 392.88 L84.10 392.80 L84.45 392.71 L84.80 392.61 L85.15 392.49 L85.50 392.37 L85.85 392.23 L86.20 392.07 L86.55 391.90 L86.90 391.70 L87.25 391.48 L87.60 391.23 L87.96 390.96 L88.31 390.68 L88.66 390.39 L88.99 390.09 L89.31 389.79 L89.60 389.50 L89.87 389.21 L90.11 388.92 L90.34 388.63 L90.55 388.34 L90.76 388.04 L90.96 387.73 L91.18 387.42 L91.40 387.10 L91.63 386.78 L91.86 386.47 L92.09 386.16 L92.33 385.84 L92.56 385.50 L92.80 385.14 L93.05 384.74 L93.30 384.30 L93.56 383.82 L93.83 383.30 L94.11 382.75 L94.39 382.17 L94.68 381.57 L94.96 380.96 L95.23 380.33 L95.50 379.70 L95.76 379.06 L96.02 378.39 L96.27 377.70 L96.53 377.01 L96.77 376.30 L97.02 375.60 L97.26 374.89 L97.50 374.20 L97.73 373.51 L97.96 372.80 L98.19 372.10 L98.41 371.39 L98.63 370.70 L98.85 370.01 L99.07 369.34 L99.30 368.70 L99.53 368.08 L99.77 367.49 L100.01 366.91 L100.25 366.34 L100.49 365.79 L100.73 365.23 L100.97 364.67 L101.20 364.10 L101.43 363.51 L101.66 362.91 L101.88 362.31 L102.11 361.71 L102.33 361.12 L102.55 360.54 L102.78 360.00 L103.00 359.50 L103.22 359.03 L103.45 358.59 L103.67 358.17 L103.89 357.77 L104.11 357.39 L104.34 357.04 L104.57 356.71 L104.80 356.40 L105.05 356.11 L105.33 355.84 L105.62 355.59 L105.91 355.36 L106.19 355.15 L106.44 354.97 L106.64 354.82 L106.80 354.70" fill="none" stroke="#f42424" stroke-width="0.9" stroke-linejoin="round"/>
<path d="M130.43 180.64 V185.08 M132.21 178.87 V185.96 M135.76 179.76 V185.96 M138.06 185.96 V193.06 M141.61 189.51 V195.72 M147.28 183.30 V188.62 M149.06 182.42 V189.51 M151.19 179.76 V187.74 M152.61 183.30 V191.28 M155.27 182.42 V186.85 M157.93 185.08 V191.28 M161.12 180.64 V186.85 M163.25 183.30 V189.51 M168.57 178.87 V186.85 M170.34 183.30 V188.62 M172.12 184.19 V190.40 M173.89 180.64 V187.74 M177.44 177.98 V185.08 M178.86 182.42 V187.74" fill="none" stroke="#2e2e2e" stroke-width="0.9"/>
<path d="M133.98 173.55 V182.42 M139.83 186.85 V196.61 M143.38 190.40 V197.49 M145.16 179.76 V187.74 M156.51 172.66 V187.74 M159.70 175.32 V185.96 M164.67 185.08 V192.17 M166.80 177.98 V187.74 M175.66 178.87 V185.96" fill="none" stroke="#000" stroke-width="1.15"/>
<path d="M130.43 182.78 L132.21 182.51 L133.98 178.66 L135.76 182.80 L138.06 189.52 L139.83 191.87 L141.61 192.11 L143.38 193.96 L145.16 183.95 L147.28 186.43 L149.06 185.31 L151.19 183.43 L152.61 186.64 L155.27 185.13 L156.51 180.51 L157.93 187.45 L159.70 181.41 L161.12 184.49 L163.25 186.65 L164.67 188.81 L166.80 182.31 L168.57 182.08 L170.34 186.01 L172.12 186.59 L173.89 183.69 L175.66 182.00 L177.44 180.78 L178.86 185.02" fill="none" stroke="#222" stroke-width="0.6" stroke-linejoin="round"/>
<path d="M129.90 183.00 L130.15 182.85 L130.40 182.66 L130.65 182.43 L130.90 182.19 L131.15 181.93 L131.40 181.67 L131.65 181.41 L131.90 181.15 L132.15 180.89 L132.40 180.64 L132.65 180.40 L132.90 180.18 L133.15 179.97 L133.40 179.78 L133.65 179.61 L133.90 179.48 L134.15 179.39 L134.40 179.35 L134.65 179.38 L134.90 179.49 L135.15 179.68 L135.40 179.96 L135.65 180.31 L135.90 180.75 L136.15 181.24 L136.40 181.79 L136.65 182.38 L136.90 183.00 L137.15 183.64 L137.40 184.29 L137.65 184.94 L137.90 185.57 L138.15 186.19 L138.40 186.78 L138.65 187.33 L138.90 187.84 L139.15 188.29 L139.40 188.69 L139.65 189.03 L139.90 189.29 L140.15 189.48 L140.40 189.59 L140.65 189.63 L140.90 189.61 L141.15 189.53 L141.40 189.41 L141.65 189.25 L141.90 189.06 L142.15 188.86 L142.40 188.64 L142.65 188.42 L142.90 188.21 L143.15 188.00 L143.40 187.80 L143.65 187.61 L143.90 187.43 L144.15 187.26 L144.40 187.10 L144.65 186.94 L144.90 186.79 L145.15 186.65 L145.40 186.52 L145.65 186.40 L145.90 186.28 L146.15 186.17 L146.40 186.06 L146.65 185.96 L146.90 185.87 L147.15 185.78 L147.40 185.70 L147.65 185.61 L147.90 185.54 L148.15 185.46 L148.40 185.38 L148.65 185.31 L148.90 185.24 L149.15 185.17 L149.40 185.10 L149.65 185.04 L149.90 184.97 L150.15 184.91 L150.40 184.85 L150.65 184.78 L150.90 184.72 L151.15 184.66 L151.40 184.60 L151.65 184.54 L151.90 184.48 L152.15 184.42 L152.40 184.37 L152.65 184.31 L152.90 184.25 L153.15 184.20 L153.40 184.14 L153.65 184.09 L153.90 184.04 L154.15 184.00 L154.40 183.95 L154.65 183.91 L154.90 183.87 L155.15 183.83 L155.40 183.80 L155.65 183.77 L155.90 183.75 L156.15 183.73 L156.40 183.71 L156.65 183.70 L156.90 183.70 L157.15 183.70 L157.40 183.70 L157.65 183.70 L157.90 183.71 L158.15 183.72 L158.40 183.74 L158.65 183.76 L158.90 183.78 L159.15 183.80 L159.40 183.82 L159.65 183.84 L159.90 183.87 L160.15 183.89 L160.40 183.92 L160.65 183.94 L160.90 183.97 L161.15 183.99 L161.40 184.02 L161.65 184.04 L161.90 184.06 L162.15 184.09 L162.40 184.11 L162.65 184.13 L162.90 184.16 L163.15 184.18 L163.40 184.21 L163.65 184.24 L163.90 184.27 L164.15 184.30 L164.40 184.33 L164.65 184.36 L164.90 184.40 L165.15 184.44 L165.40 184.48 L165.65 184.53 L165.90 184.57 L166.15 184.62 L166.40 184.68 L166.65 184.74 L166.90 184.80 L167.15 184.86 L167.40 184.92 L167.65 184.99 L167.90 185.06 L168.15 185.13 L168.40 185.20 L168.65 185.28 L168.90 185.35 L169.15 185.43 L169.40 185.51 L169.65 185.58 L169.90 185.66 L170.15 185.74 L170.40 185.83 L170.65 185.92 L170.90 186.01 L171.15 186.11 L171.40 186.21 L171.65 186.31 L171.90 186.40 L172.15 186.45 L172.40 186.45 L172.65 186.39 L172.90 186.27 L173.15 186.07 L173.40 185.81 L173.65 185.50 L173.90 185.16 L174.15 184.80 L174.40 184.43 L174.65 184.09 L174.90 183.77 L175.15 183.49 L175.40 183.25 L175.65 183.07 L175.90 182.95 L176.15 182.87 L176.40 182.85 L176.65 182.87 L176.90 182.92 L177.15 183.00 L177.40 183.10 L177.65 183.23 L177.90 183.36 L178.15 183.51 L178.40 183.66 L178.65 183.82 L178.90 183.97 L179.15 184.11 L179.40 184.23 L179.65 184.32" fill="none" stroke="#ff2a24" stroke-width="1.0" stroke-linejoin="round"/>
<path d="M129.90 198.77 V214.74 M131.32 212.96 V225.38 M134.87 203.21 V210.30 M137.00 207.64 V220.06 M140.54 207.64 V216.51 M142.32 209.42 V218.28 M143.74 211.19 V218.28 M147.64 204.09 V214.74 M149.94 216.51 V223.61 M154.38 207.64 V214.74 M156.15 202.32 V209.42 M157.93 205.87 V214.74 M161.47 204.98 V216.51 M163.25 207.64 V218.28 M167.15 211.19 V220.06 M171.23 212.96 V223.61 M173.00 214.74 V221.83 M178.68 204.09 V214.74 M179.74 207.64 V223.61" fill="none" stroke="#2e2e2e" stroke-width="0.9"/>
<path d="M133.45 201.43 V207.64 M138.77 213.85 V225.38 M145.87 202.32 V212.96 M151.72 218.28 V226.09 M159.70 197.00 V212.96 M165.38 197.00 V209.42 M169.46 197.00 V214.74 M174.78 211.19 V226.09 M177.08 202.32 V211.19" fill="none" stroke="#000" stroke-width="1.15"/>
<path d="M129.90 206.66 L131.32 219.72 L133.45 204.57 L134.87 206.98 L137.00 213.85 L138.77 219.87 L140.54 212.01 L142.32 213.50 L143.74 215.53 L145.87 208.44 L147.64 209.96 L149.94 220.39 L151.72 221.89 L154.38 210.76 L156.15 205.53 L157.93 209.62 L159.70 205.41 L161.47 210.59 L163.25 213.52 L165.38 203.03 L167.15 216.36 L169.46 206.42 L171.23 217.49 L173.00 217.82 L174.78 219.30 L177.08 206.71 L178.68 210.18 L179.74 215.46" fill="none" stroke="#222" stroke-width="0.6" stroke-linejoin="round"/>
<path d="M129.90 211.16 L130.15 210.93 L130.40 210.64 L130.65 210.32 L130.90 209.95 L131.15 209.57 L131.40 209.19 L131.65 208.79 L131.90 208.41 L132.15 208.03 L132.40 207.66 L132.65 207.30 L132.90 206.97 L133.15 206.66 L133.40 206.38 L133.65 206.14 L133.90 205.96 L134.15 205.84 L134.40 205.79 L134.65 205.83 L134.90 205.96 L135.15 206.18 L135.40 206.47 L135.65 206.85 L135.90 207.28 L136.15 207.77 L136.40 208.30 L136.65 208.87 L136.90 209.45 L137.15 210.05 L137.40 210.65 L137.65 211.24 L137.90 211.82 L138.15 212.36 L138.40 212.88 L138.65 213.35 L138.90 213.80 L139.15 214.21 L139.40 214.58 L139.65 214.93 L139.90 215.23 L140.15 215.51 L140.40 215.74 L140.65 215.94 L140.90 216.10 L141.15 216.22 L141.40 216.30 L141.65 216.34 L141.90 216.34 L142.15 216.31 L142.40 216.25 L142.65 216.16 L142.90 216.05 L143.15 215.92 L143.40 215.78 L143.65 215.63 L143.90 215.48 L144.15 215.33 L144.40 215.18 L144.65 215.05 L144.90 214.93 L145.15 214.83 L145.40 214.76 L145.65 214.73 L145.90 214.73 L146.15 214.77 L146.40 214.84 L146.65 214.96 L146.90 215.11 L147.15 215.30 L147.40 215.52 L147.65 215.77 L147.90 216.04 L148.15 216.33 L148.40 216.63 L148.65 216.94 L148.90 217.23 L149.15 217.51 L149.40 217.75 L149.65 217.95 L149.90 218.09 L150.15 218.17 L150.40 218.18 L150.65 218.13 L150.90 218.00 L151.15 217.82 L151.40 217.58 L151.65 217.29 L151.90 216.96 L152.15 216.60 L152.40 216.22 L152.65 215.82 L152.90 215.41 L153.15 214.98 L153.40 214.54 L153.65 214.09 L153.90 213.62 L154.15 213.13 L154.40 212.64 L154.65 212.14 L154.90 211.64 L155.15 211.16 L155.40 210.69 L155.65 210.25 L155.90 209.85 L156.15 209.48 L156.40 209.15 L156.65 208.86 L156.90 208.61 L157.15 208.40 L157.40 208.22 L157.65 208.07 L157.90 207.96 L158.15 207.87 L158.40 207.81 L158.65 207.78 L158.90 207.77 L159.15 207.78 L159.40 207.81 L159.65 207.86 L159.90 207.93 L160.15 208.02 L160.40 208.12 L160.65 208.24 L160.90 208.36 L161.15 208.50 L161.40 208.64 L161.65 208.79 L161.90 208.94 L162.15 209.10 L162.40 209.26 L162.65 209.42 L162.90 209.58 L163.15 209.75 L163.40 209.92 L163.65 210.10 L163.90 210.28 L164.15 210.47 L164.40 210.66 L164.65 210.85 L164.90 211.05 L165.15 211.24 L165.40 211.44 L165.65 211.62 L165.90 211.81 L166.15 211.98 L166.40 212.14 L166.65 212.30 L166.90 212.44 L167.15 212.58 L167.40 212.70 L167.65 212.81 L167.90 212.92 L168.15 213.01 L168.40 213.10 L168.65 213.18 L168.90 213.25 L169.15 213.31 L169.40 213.37 L169.65 213.42 L169.90 213.46 L170.15 213.50 L170.40 213.53 L170.65 213.55 L170.90 213.57 L171.15 213.58 L171.40 213.58 L171.65 213.57 L171.90 213.56 L172.15 213.55 L172.40 213.52 L172.65 213.49 L172.90 213.46 L173.15 213.42 L173.40 213.37 L173.65 213.32 L173.90 213.26 L174.15 213.19 L174.40 213.10 L174.65 213.01 L174.90 212.89 L175.15 212.75 L175.40 212.59 L175.65 212.42 L175.90 212.25 L176.15 212.09 L176.40 211.95 L176.65 211.85 L176.90 211.78 L177.15 211.76 L177.40 211.77 L177.65 211.81 L177.90 211.87 L178.15 211.94 L178.40 212.03 L178.65 212.12 L178.90 212.21 L179.15 212.29 L179.40 212.36 L179.65 212.42" fill="none" stroke="#ff2a24" stroke-width="1.0" stroke-linejoin="round"/>
<path d="M129.90 232.09 V242.74 M131.68 230.32 V239.19 M133.45 225.00 V235.64 M135.76 228.55 V240.96 M141.08 240.96 V248.06 M142.85 235.64 V244.51 M144.62 237.42 V249.83 M146.93 235.64 V246.28 M150.48 239.19 V248.06 M155.80 233.87 V242.74 M157.57 237.42 V244.51 M159.70 242.74 V251.61 M166.80 235.64 V244.51 M168.92 239.19 V246.28 M171.23 240.96 V248.06 M174.78 242.74 V251.61 M176.55 235.64 V246.28 M179.57 233.87 V240.96" fill="none" stroke="#2e2e2e" stroke-width="0.9"/>
<path d="M137.53 226.77 V239.19 M139.30 237.42 V253.38 M148.70 225.00 V242.74 M152.25 242.74 V254.09 M154.02 230.32 V246.28 M161.47 244.51 V254.09 M163.25 228.55 V244.51 M165.02 226.77 V242.74 M173.00 240.96 V251.61 M178.32 232.09 V242.74" fill="none" stroke="#000" stroke-width="1.15"/>
<path d="M129.90 236.73 L131.68 234.96 L133.45 230.77 L135.76 234.39 L137.53 232.32 L139.30 245.13 L141.08 245.25 L142.85 240.49 L144.62 243.01 L146.93 240.56 L148.70 233.23 L150.48 242.92 L152.25 248.89 L154.02 237.79 L155.80 238.40 L157.57 240.88 L159.70 246.68 L161.47 249.67 L163.25 235.94 L165.02 234.99 L166.80 239.46 L168.92 242.61 L171.23 244.05 L173.00 245.92 L174.78 247.92 L176.55 241.45 L178.32 237.10 L179.57 238.03" fill="none" stroke="#222" stroke-width="0.6" stroke-linejoin="round"/>
<path d="M129.90 240.20 L130.15 240.00 L130.40 239.75 L130.65 239.46 L130.90 239.14 L131.15 238.81 L131.40 238.48 L131.65 238.15 L131.90 237.82 L132.15 237.51 L132.40 237.20 L132.65 236.91 L132.90 236.62 L133.15 236.35 L133.40 236.09 L133.65 235.84 L133.90 235.61 L134.15 235.40 L134.40 235.22 L134.65 235.07 L134.90 234.96 L135.15 234.90 L135.40 234.89 L135.65 234.94 L135.90 235.05 L136.15 235.22 L136.40 235.44 L136.65 235.70 L136.90 236.01 L137.15 236.34 L137.40 236.70 L137.65 237.08 L137.90 237.47 L138.15 237.85 L138.40 238.24 L138.65 238.63 L138.90 239.02 L139.15 239.41 L139.40 239.81 L139.65 240.20 L139.90 240.58 L140.15 240.95 L140.40 241.29 L140.65 241.60 L140.90 241.87 L141.15 242.10 L141.40 242.28 L141.65 242.41 L141.90 242.49 L142.15 242.53 L142.40 242.54 L142.65 242.51 L142.90 242.45 L143.15 242.38 L143.40 242.29 L143.65 242.20 L143.90 242.10 L144.15 242.00 L144.40 241.91 L144.65 241.84 L144.90 241.77 L145.15 241.72 L145.40 241.70 L145.65 241.68 L145.90 241.69 L146.15 241.72 L146.40 241.76 L146.65 241.81 L146.90 241.87 L147.15 241.94 L147.40 242.01 L147.65 242.09 L147.90 242.17 L148.15 242.24 L148.40 242.32 L148.65 242.39 L148.90 242.46 L149.15 242.52 L149.40 242.58 L149.65 242.63 L149.90 242.67 L150.15 242.71 L150.40 242.75 L150.65 242.79 L150.90 242.82 L151.15 242.85 L151.40 242.88 L151.65 242.90 L151.90 242.92 L152.15 242.94 L152.40 242.96 L152.65 242.97 L152.90 242.97 L153.15 242.98 L153.40 242.98 L153.65 242.97 L153.90 242.96 L154.15 242.94 L154.40 242.92 L154.65 242.89 L154.90 242.86 L155.15 242.83 L155.40 242.79 L155.65 242.76 L155.90 242.73 L156.15 242.70 L156.40 242.68 L156.65 242.66 L156.90 242.64 L157.15 242.64 L157.40 242.64 L157.65 242.64 L157.90 242.66 L158.15 242.68 L158.40 242.70 L158.65 242.73 L158.90 242.77 L159.15 242.80 L159.40 242.83 L159.65 242.87 L159.90 242.90 L160.15 242.93 L160.40 242.95 L160.65 242.96 L160.90 242.97 L161.15 242.97 L161.40 242.96 L161.65 242.95 L161.90 242.92 L162.15 242.89 L162.40 242.84 L162.65 242.78 L162.90 242.71 L163.15 242.62 L163.40 242.51 L163.65 242.38 L163.90 242.23 L164.15 242.06 L164.40 241.87 L164.65 241.66 L164.90 241.43 L165.15 241.18 L165.40 240.93 L165.65 240.66 L165.90 240.40 L166.15 240.14 L166.40 239.89 L166.65 239.66 L166.90 239.45 L167.15 239.27 L167.40 239.12 L167.65 239.02 L167.90 238.98 L168.15 238.99 L168.40 239.06 L168.65 239.19 L168.90 239.37 L169.15 239.61 L169.40 239.87 L169.65 240.15 L169.90 240.44 L170.15 240.72 L170.40 240.97 L170.65 241.19 L170.90 241.37 L171.15 241.51 L171.40 241.62 L171.65 241.70 L171.90 241.75 L172.15 241.79 L172.40 241.81 L172.65 241.82 L172.90 241.81 L173.15 241.80 L173.40 241.79 L173.65 241.76 L173.90 241.73 L174.15 241.70 L174.40 241.66 L174.65 241.62 L174.90 241.57 L175.15 241.51 L175.40 241.45 L175.65 241.38 L175.90 241.30 L176.15 241.21 L176.40 241.12 L176.65 241.03 L176.90 240.93 L177.15 240.85 L177.40 240.77 L177.65 240.70 L177.90 240.65 L178.15 240.61 L178.40 240.58 L178.65 240.57 L178.90 240.56 L179.15 240.56 L179.40 240.57 L179.65 240.57" fill="none" stroke="#ff2a24" stroke-width="1.0" stroke-linejoin="round"/>
<path d="M131.32 267.30 V274.40 M133.45 267.30 V271.74 M135.22 264.64 V272.62 M137.00 265.53 V271.74 M140.19 266.42 V272.62 M141.96 269.08 V275.28 M145.51 265.53 V271.74 M149.06 262.87 V271.74 M151.19 273.51 V280.61 M156.15 271.74 V277.06 M158.28 264.64 V273.51 M160.06 263.76 V270.85 M163.60 262.87 V271.74 M165.38 266.42 V273.51 M169.46 268.19 V275.28 M171.23 266.42 V271.74 M173.00 262.87 V268.19 M174.78 259.32 V266.42 M178.86 266.42 V274.40" fill="none" stroke="#2e2e2e" stroke-width="0.9"/>
<path d="M129.90 266.42 V275.28 M138.77 261.09 V271.74 M143.74 269.96 V276.17 M147.64 257.55 V268.19 M152.96 275.28 V283.09 M154.38 277.06 V283.09 M161.83 258.43 V269.08 M167.68 269.08 V276.17 M176.20 255.77 V264.64 M177.44 254.89 V262.87" fill="none" stroke="#000" stroke-width="1.15"/>
<path d="M129.90 270.39 L131.32 270.68 L133.45 270.09 L135.22 268.86 L137.00 267.99 L138.77 267.20 L140.19 269.06 L141.96 271.79 L143.74 273.50 L145.51 268.36 L147.64 262.54 L149.06 266.62 L151.19 276.40 L152.96 279.32 L154.38 279.66 L156.15 274.56 L158.28 268.87 L160.06 267.23 L161.83 264.49 L163.60 267.28 L165.38 270.08 L167.68 273.21 L169.46 271.23 L171.23 268.52 L173.00 266.18 L174.78 263.38 L176.20 259.81 L177.44 258.38 L178.86 270.79" fill="none" stroke="#222" stroke-width="0.6" stroke-linejoin="round"/>
<path d="M129.90 268.94 L130.15 268.90 L130.40 268.86 L130.65 268.81 L130.90 268.76 L131.15 268.71 L131.40 268.65 L131.65 268.60 L131.90 268.54 L132.15 268.49 L132.40 268.44 L132.65 268.39 L132.90 268.35 L133.15 268.30 L133.40 268.27 L133.65 268.23 L133.90 268.20 L134.15 268.17 L134.40 268.14 L134.65 268.12 L134.90 268.10 L135.15 268.08 L135.40 268.06 L135.65 268.05 L135.90 268.05 L136.15 268.05 L136.40 268.06 L136.65 268.07 L136.90 268.10 L137.15 268.14 L137.40 268.20 L137.65 268.28 L137.90 268.37 L138.15 268.49 L138.40 268.63 L138.65 268.79 L138.90 268.96 L139.15 269.15 L139.40 269.34 L139.65 269.52 L139.90 269.70 L140.15 269.87 L140.40 270.02 L140.65 270.15 L140.90 270.27 L141.15 270.38 L141.40 270.47 L141.65 270.54 L141.90 270.60 L142.15 270.65 L142.40 270.68 L142.65 270.68 L142.90 270.66 L143.15 270.61 L143.40 270.53 L143.65 270.42 L143.90 270.28 L144.15 270.10 L144.40 269.89 L144.65 269.65 L144.90 269.40 L145.15 269.13 L145.40 268.84 L145.65 268.56 L145.90 268.27 L146.15 267.99 L146.40 267.70 L146.65 267.43 L146.90 267.17 L147.15 266.93 L147.40 266.73 L147.65 266.59 L147.90 266.52 L148.15 266.55 L148.40 266.67 L148.65 266.89 L148.90 267.20 L149.15 267.59 L149.40 268.05 L149.65 268.55 L149.90 269.10 L150.15 269.66 L150.40 270.23 L150.65 270.80 L150.90 271.37 L151.15 271.92 L151.40 272.47 L151.65 273.01 L151.90 273.54 L152.15 274.07 L152.40 274.58 L152.65 275.07 L152.90 275.53 L153.15 275.94 L153.40 276.31 L153.65 276.60 L153.90 276.83 L154.15 276.97 L154.40 277.02 L154.65 276.99 L154.90 276.88 L155.15 276.69 L155.40 276.44 L155.65 276.13 L155.90 275.78 L156.15 275.40 L156.40 275.00 L156.65 274.59 L156.90 274.17 L157.15 273.75 L157.40 273.33 L157.65 272.90 L157.90 272.46 L158.15 272.02 L158.40 271.58 L158.65 271.14 L158.90 270.70 L159.15 270.28 L159.40 269.87 L159.65 269.48 L159.90 269.12 L160.15 268.78 L160.40 268.48 L160.65 268.19 L160.90 267.94 L161.15 267.71 L161.40 267.50 L161.65 267.32 L161.90 267.17 L162.15 267.05 L162.40 266.95 L162.65 266.88 L162.90 266.85 L163.15 266.85 L163.40 266.88 L163.65 266.95 L163.90 267.04 L164.15 267.16 L164.40 267.31 L164.65 267.48 L164.90 267.66 L165.15 267.85 L165.40 268.05 L165.65 268.25 L165.90 268.46 L166.15 268.68 L166.40 268.91 L166.65 269.14 L166.90 269.38 L167.15 269.62 L167.40 269.86 L167.65 270.09 L167.90 270.30 L168.15 270.48 L168.40 270.62 L168.65 270.72 L168.90 270.78 L169.15 270.79 L169.40 270.76 L169.65 270.68 L169.90 270.55 L170.15 270.39 L170.40 270.20 L170.65 269.98 L170.90 269.73 L171.15 269.45 L171.40 269.16 L171.65 268.85 L171.90 268.52 L172.15 268.17 L172.40 267.80 L172.65 267.42 L172.90 267.02 L173.15 266.60 L173.40 266.18 L173.65 265.76 L173.90 265.33 L174.15 264.92 L174.40 264.51 L174.65 264.12 L174.90 263.75 L175.15 263.42 L175.40 263.15 L175.65 262.93 L175.90 262.79 L176.15 262.74 L176.40 262.80 L176.65 262.96 L176.90 263.21 L177.15 263.55 L177.40 263.95 L177.65 264.39 L177.90 264.85 L178.15 265.32 L178.40 265.79 L178.65 266.25 L178.90 266.69 L179.15 267.09 L179.40 267.45 L179.65 267.73" fill="none" stroke="#ff2a24" stroke-width="1.0" stroke-linejoin="round"/>
<path d="M129.90 292.64 V299.74 M131.68 289.98 V297.96 M133.45 292.64 V299.74 M137.00 296.19 V305.06 M138.77 292.64 V299.74 M140.54 293.53 V301.51 M142.32 291.76 V298.85 M145.87 292.64 V299.74 M147.64 293.53 V299.74 M149.41 294.42 V300.62 M151.19 296.19 V305.06 M154.38 294.42 V301.51 M156.15 296.19 V302.40 M157.93 292.64 V300.62 M159.70 291.76 V298.85 M163.60 297.08 V304.17 M167.15 294.42 V303.28 M168.57 291.76 V301.51 M170.34 290.87 V298.85 M172.47 287.32 V296.19 M174.24 288.21 V295.30 M176.02 289.09 V296.19 M179.21 292.64 V297.96" fill="none" stroke="#2e2e2e" stroke-width="0.9"/>
<path d="M135.22 297.08 V308.61 M143.74 294.42 V303.28 M152.61 297.96 V306.83 M161.83 289.98 V301.51 M165.38 297.96 V305.06 M177.79 284.66 V294.42" fill="none" stroke="#000" stroke-width="1.15"/>
<path d="M129.90 296.89 L131.68 293.49 L133.45 296.91 L135.22 303.45 L137.00 300.79 L138.77 296.06 L140.54 296.89 L142.32 294.56 L143.74 299.59 L145.87 295.77 L147.64 296.96 L149.41 297.13 L151.19 301.14 L152.61 302.55 L154.38 297.63 L156.15 298.77 L157.93 296.99 L159.70 294.61 L161.83 295.31 L163.60 300.72 L165.38 302.07 L167.15 299.03 L168.57 296.28 L170.34 295.53 L172.47 291.28 L174.24 290.98 L176.02 292.27 L177.79 289.45 L179.21 294.60" fill="none" stroke="#222" stroke-width="0.6" stroke-linejoin="round"/>
<path d="M129.90 296.90 L130.15 296.85 L130.40 296.79 L130.65 296.71 L130.90 296.64 L131.15 296.56 L131.40 296.48 L131.65 296.42 L131.90 296.37 L132.15 296.33 L132.40 296.32 L132.65 296.33 L132.90 296.38 L133.15 296.46 L133.40 296.58 L133.65 296.72 L133.90 296.89 L134.15 297.07 L134.40 297.27 L134.65 297.47 L134.90 297.68 L135.15 297.88 L135.40 298.08 L135.65 298.29 L135.90 298.48 L136.15 298.67 L136.40 298.84 L136.65 299.00 L136.90 299.12 L137.15 299.22 L137.40 299.29 L137.65 299.31 L137.90 299.29 L138.15 299.23 L138.40 299.14 L138.65 299.01 L138.90 298.86 L139.15 298.68 L139.40 298.50 L139.65 298.31 L139.90 298.13 L140.15 297.95 L140.40 297.79 L140.65 297.63 L140.90 297.49 L141.15 297.36 L141.40 297.24 L141.65 297.13 L141.90 297.03 L142.15 296.94 L142.40 296.86 L142.65 296.80 L142.90 296.75 L143.15 296.71 L143.40 296.69 L143.65 296.70 L143.90 296.72 L144.15 296.76 L144.40 296.83 L144.65 296.90 L144.90 296.99 L145.15 297.09 L145.40 297.19 L145.65 297.28 L145.90 297.37 L146.15 297.44 L146.40 297.50 L146.65 297.54 L146.90 297.56 L147.15 297.58 L147.40 297.58 L147.65 297.57 L147.90 297.56 L148.15 297.55 L148.40 297.55 L148.65 297.56 L148.90 297.59 L149.15 297.64 L149.40 297.70 L149.65 297.79 L149.90 297.90 L150.15 298.03 L150.40 298.18 L150.65 298.34 L150.90 298.50 L151.15 298.67 L151.40 298.84 L151.65 299.01 L151.90 299.17 L152.15 299.32 L152.40 299.46 L152.65 299.60 L152.90 299.72 L153.15 299.84 L153.40 299.96 L153.65 300.06 L153.90 300.15 L154.15 300.24 L154.40 300.30 L154.65 300.36 L154.90 300.40 L155.15 300.42 L155.40 300.42 L155.65 300.40 L155.90 300.37 L156.15 300.32 L156.40 300.25 L156.65 300.17 L156.90 300.08 L157.15 299.98 L157.40 299.87 L157.65 299.75 L157.90 299.62 L158.15 299.49 L158.40 299.35 L158.65 299.20 L158.90 299.04 L159.15 298.87 L159.40 298.70 L159.65 298.54 L159.90 298.37 L160.15 298.21 L160.40 298.06 L160.65 297.92 L160.90 297.80 L161.15 297.70 L161.40 297.62 L161.65 297.56 L161.90 297.51 L162.15 297.48 L162.40 297.47 L162.65 297.46 L162.90 297.47 L163.15 297.49 L163.40 297.52 L163.65 297.56 L163.90 297.60 L164.15 297.66 L164.40 297.72 L164.65 297.80 L164.90 297.89 L165.15 297.98 L165.40 298.07 L165.65 298.17 L165.90 298.26 L166.15 298.34 L166.40 298.41 L166.65 298.47 L166.90 298.51 L167.15 298.53 L167.40 298.53 L167.65 298.52 L167.90 298.49 L168.15 298.44 L168.40 298.38 L168.65 298.30 L168.90 298.20 L169.15 298.08 L169.40 297.93 L169.65 297.76 L169.90 297.57 L170.15 297.35 L170.40 297.10 L170.65 296.83 L170.90 296.54 L171.15 296.22 L171.40 295.89 L171.65 295.54 L171.90 295.18 L172.15 294.81 L172.40 294.42 L172.65 294.02 L172.90 293.60 L173.15 293.17 L173.40 292.72 L173.65 292.26 L173.90 291.81 L174.15 291.39 L174.40 291.01 L174.65 290.70 L174.90 290.47 L175.15 290.34 L175.40 290.32 L175.65 290.41 L175.90 290.59 L176.15 290.86 L176.40 291.20 L176.65 291.59 L176.90 292.02 L177.15 292.46 L177.40 292.90 L177.65 293.34 L177.90 293.76 L178.15 294.16 L178.40 294.54 L178.65 294.90 L178.90 295.23 L179.15 295.53 L179.40 295.78 L179.65 295.99" fill="none" stroke="#ff2a24" stroke-width="1.0" stroke-linejoin="round"/>
<path d="M129.90 317.98 V327.74 M131.68 320.64 V328.62 M133.45 323.30 V329.51 M135.22 320.64 V327.74 M137.00 321.53 V329.51 M138.77 322.42 V329.51 M140.54 325.96 V332.17 M143.74 326.85 V334.83 M146.93 320.64 V327.74 M148.70 319.76 V331.28 M150.48 325.08 V339.09 M152.25 324.19 V333.06 M154.02 319.76 V333.06 M155.80 325.96 V336.61 M157.57 320.64 V327.74 M161.12 317.98 V327.74 M164.67 320.64 V328.62 M166.44 318.87 V327.74 M168.21 324.19 V330.40 M171.76 322.42 V329.51 M173.54 312.66 V324.19 M179.92 322.42 V327.74" fill="none" stroke="#2e2e2e" stroke-width="0.9"/>
<path d="M142.32 327.74 V335.72 M145.16 316.21 V327.74 M159.35 311.77 V325.96 M162.89 324.19 V339.09 M169.99 326.85 V336.61 M175.31 311.77 V322.42 M177.08 310.89 V320.64 M178.68 317.09 V332.17" fill="none" stroke="#000" stroke-width="1.15"/>
<path d="M129.90 322.34 L131.68 324.42 L133.45 326.52 L135.22 323.60 L137.00 325.30 L138.77 326.59 L140.54 329.84 L142.32 331.98 L143.74 331.15 L145.16 322.11 L146.93 323.61 L148.70 324.78 L150.48 331.31 L152.25 329.28 L154.02 326.73 L155.80 332.02 L157.57 323.42 L159.35 319.09 L161.12 322.83 L162.89 332.01 L164.67 324.34 L166.44 324.10 L168.21 326.61 L169.99 331.80 L171.76 326.34 L173.54 319.07 L175.31 317.47 L177.08 316.09 L178.68 325.10 L179.92 325.74" fill="none" stroke="#222" stroke-width="0.6" stroke-linejoin="round"/>
<path d="M129.90 325.05 L130.15 325.08 L130.40 325.11 L130.65 325.15 L130.90 325.19 L131.15 325.24 L131.40 325.29 L131.65 325.34 L131.90 325.40 L132.15 325.46 L132.40 325.52 L132.65 325.60 L132.90 325.68 L133.15 325.76 L133.40 325.86 L133.65 325.96 L133.90 326.07 L134.15 326.17 L134.40 326.26 L134.65 326.34 L134.90 326.41 L135.15 326.45 L135.40 326.46 L135.65 326.45 L135.90 326.40 L136.15 326.31 L136.40 326.20 L136.65 326.07 L136.90 325.92 L137.15 325.76 L137.40 325.60 L137.65 325.46 L137.90 325.35 L138.15 325.26 L138.40 325.21 L138.65 325.21 L138.90 325.26 L139.15 325.35 L139.40 325.48 L139.65 325.64 L139.90 325.84 L140.15 326.06 L140.40 326.30 L140.65 326.54 L140.90 326.79 L141.15 327.05 L141.40 327.30 L141.65 327.54 L141.90 327.78 L142.15 328.01 L142.40 328.22 L142.65 328.39 L142.90 328.52 L143.15 328.59 L143.40 328.59 L143.65 328.51 L143.90 328.35 L144.15 328.13 L144.40 327.84 L144.65 327.51 L144.90 327.15 L145.15 326.77 L145.40 326.39 L145.65 326.01 L145.90 325.63 L146.15 325.26 L146.40 324.90 L146.65 324.55 L146.90 324.22 L147.15 323.90 L147.40 323.62 L147.65 323.39 L147.90 323.20 L148.15 323.07 L148.40 323.00 L148.65 323.00 L148.90 323.05 L149.15 323.17 L149.40 323.34 L149.65 323.55 L149.90 323.79 L150.15 324.06 L150.40 324.36 L150.65 324.67 L150.90 324.99 L151.15 325.32 L151.40 325.67 L151.65 326.03 L151.90 326.41 L152.15 326.80 L152.40 327.19 L152.65 327.58 L152.90 327.95 L153.15 328.30 L153.40 328.59 L153.65 328.84 L153.90 329.01 L154.15 329.11 L154.40 329.13 L154.65 329.07 L154.90 328.94 L155.15 328.73 L155.40 328.47 L155.65 328.16 L155.90 327.81 L156.15 327.44 L156.40 327.05 L156.65 326.65 L156.90 326.24 L157.15 325.82 L157.40 325.40 L157.65 324.97 L157.90 324.54 L158.15 324.10 L158.40 323.66 L158.65 323.22 L158.90 322.81 L159.15 322.43 L159.40 322.10 L159.65 321.82 L159.90 321.60 L160.15 321.46 L160.40 321.39 L160.65 321.39 L160.90 321.47 L161.15 321.60 L161.40 321.78 L161.65 322.00 L161.90 322.25 L162.15 322.52 L162.40 322.80 L162.65 323.08 L162.90 323.35 L163.15 323.63 L163.40 323.90 L163.65 324.17 L163.90 324.44 L164.15 324.70 L164.40 324.97 L164.65 325.23 L164.90 325.48 L165.15 325.73 L165.40 325.96 L165.65 326.18 L165.90 326.38 L166.15 326.57 L166.40 326.74 L166.65 326.90 L166.90 327.04 L167.15 327.17 L167.40 327.27 L167.65 327.36 L167.90 327.42 L168.15 327.46 L168.40 327.47 L168.65 327.44 L168.90 327.39 L169.15 327.30 L169.40 327.17 L169.65 327.02 L169.90 326.83 L170.15 326.62 L170.40 326.38 L170.65 326.11 L170.90 325.83 L171.15 325.52 L171.40 325.20 L171.65 324.86 L171.90 324.49 L172.15 324.11 L172.40 323.70 L172.65 323.27 L172.90 322.82 L173.15 322.37 L173.40 321.91 L173.65 321.46 L173.90 321.03 L174.15 320.63 L174.40 320.27 L174.65 319.97 L174.90 319.74 L175.15 319.59 L175.40 319.53 L175.65 319.57 L175.90 319.71 L176.15 319.94 L176.40 320.25 L176.65 320.61 L176.90 321.02 L177.15 321.45 L177.40 321.88 L177.65 322.29 L177.90 322.67 L178.15 323.03 L178.40 323.36 L178.65 323.66 L178.90 323.93 L179.15 324.17 L179.40 324.37 L179.65 324.53" fill="none" stroke="#ff2a24" stroke-width="1.0" stroke-linejoin="round"/>
<path d="M129.90 348.64 V353.96 M131.32 346.87 V353.08 M133.09 345.98 V352.19 M134.87 345.09 V350.42 M139.30 348.64 V357.51 M142.32 359.28 V365.49 M143.74 362.83 V368.15 M147.28 359.28 V366.38 M149.06 355.74 V364.61 M150.83 353.08 V360.17 M154.02 350.42 V355.74 M155.80 353.08 V358.40 M159.35 346.87 V355.74 M161.12 342.43 V349.53 M164.31 343.32 V350.42 M165.91 348.64 V357.51 M169.46 348.64 V355.74 M171.23 345.98 V353.08 M173.00 346.87 V353.96 M176.55 347.76 V354.85 M179.74 349.53 V353.96" fill="none" stroke="#2e2e2e" stroke-width="0.9"/>
<path d="M136.29 340.66 V348.64 M137.71 341.55 V350.42 M140.54 355.74 V368.15 M145.51 364.61 V372.59 M152.61 345.09 V357.51 M157.57 354.85 V363.72 M162.89 338.00 V348.64 M167.68 353.96 V362.83 M174.78 344.21 V352.19 M178.32 345.09 V353.96" fill="none" stroke="#000" stroke-width="1.15"/>
<path d="M129.90 351.07 L131.32 350.27 L133.09 349.73 L134.87 348.35 L136.29 344.52 L137.71 346.45 L139.30 353.66 L140.54 362.06 L142.32 362.59 L143.74 365.30 L145.51 368.73 L147.28 363.01 L149.06 359.50 L150.83 356.85 L152.61 352.09 L154.02 353.68 L155.80 356.10 L157.57 359.11 L159.35 351.68 L161.12 346.11 L162.89 343.23 L164.31 347.41 L165.91 352.41 L167.68 358.80 L169.46 351.44 L171.23 349.69 L173.00 350.39 L174.78 347.77 L176.55 351.62 L178.32 349.52 L179.74 351.93" fill="none" stroke="#222" stroke-width="0.6" stroke-linejoin="round"/>
<path d="M129.90 352.68 L130.15 352.51 L130.40 352.30 L130.65 352.07 L130.90 351.81 L131.15 351.53 L131.40 351.25 L131.65 350.97 L131.90 350.69 L132.15 350.41 L132.40 350.13 L132.65 349.85 L132.90 349.58 L133.15 349.30 L133.40 349.02 L133.65 348.74 L133.90 348.47 L134.15 348.21 L134.40 347.98 L134.65 347.77 L134.90 347.60 L135.15 347.49 L135.40 347.44 L135.65 347.47 L135.90 347.59 L136.15 347.80 L136.40 348.10 L136.65 348.49 L136.90 348.95 L137.15 349.47 L137.40 350.04 L137.65 350.64 L137.90 351.27 L138.15 351.91 L138.40 352.58 L138.65 353.25 L138.90 353.94 L139.15 354.62 L139.40 355.31 L139.65 355.98 L139.90 356.65 L140.15 357.29 L140.40 357.92 L140.65 358.53 L140.90 359.12 L141.15 359.68 L141.40 360.23 L141.65 360.77 L141.90 361.29 L142.15 361.79 L142.40 362.27 L142.65 362.74 L142.90 363.18 L143.15 363.60 L143.40 363.99 L143.65 364.34 L143.90 364.66 L144.15 364.91 L144.40 365.11 L144.65 365.22 L144.90 365.25 L145.15 365.19 L145.40 365.05 L145.65 364.82 L145.90 364.51 L146.15 364.14 L146.40 363.72 L146.65 363.27 L146.90 362.78 L147.15 362.28 L147.40 361.76 L147.65 361.25 L147.90 360.74 L148.15 360.24 L148.40 359.75 L148.65 359.26 L148.90 358.79 L149.15 358.33 L149.40 357.87 L149.65 357.43 L149.90 356.99 L150.15 356.56 L150.40 356.15 L150.65 355.76 L150.90 355.39 L151.15 355.05 L151.40 354.74 L151.65 354.46 L151.90 354.23 L152.15 354.03 L152.40 353.89 L152.65 353.79 L152.90 353.74 L153.15 353.73 L153.40 353.77 L153.65 353.85 L153.90 353.96 L154.15 354.10 L154.40 354.27 L154.65 354.44 L154.90 354.62 L155.15 354.80 L155.40 354.96 L155.65 355.09 L155.90 355.19 L156.15 355.25 L156.40 355.25 L156.65 355.20 L156.90 355.08 L157.15 354.89 L157.40 354.62 L157.65 354.29 L157.90 353.87 L158.15 353.38 L158.40 352.82 L158.65 352.20 L158.90 351.52 L159.15 350.81 L159.40 350.09 L159.65 349.39 L159.90 348.70 L160.15 348.06 L160.40 347.47 L160.65 346.94 L160.90 346.47 L161.15 346.06 L161.40 345.73 L161.65 345.48 L161.90 345.32 L162.15 345.27 L162.40 345.31 L162.65 345.46 L162.90 345.70 L163.15 346.03 L163.40 346.43 L163.65 346.88 L163.90 347.37 L164.15 347.90 L164.40 348.45 L164.65 349.02 L164.90 349.61 L165.15 350.21 L165.40 350.81 L165.65 351.41 L165.90 351.99 L166.15 352.56 L166.40 353.08 L166.65 353.56 L166.90 353.98 L167.15 354.34 L167.40 354.61 L167.65 354.80 L167.90 354.90 L168.15 354.92 L168.40 354.85 L168.65 354.72 L168.90 354.53 L169.15 354.29 L169.40 354.00 L169.65 353.68 L169.90 353.34 L170.15 352.98 L170.40 352.60 L170.65 352.21 L170.90 351.82 L171.15 351.44 L171.40 351.07 L171.65 350.71 L171.90 350.37 L172.15 350.05 L172.40 349.75 L172.65 349.49 L172.90 349.28 L173.15 349.11 L173.40 349.00 L173.65 348.96 L173.90 348.98 L174.15 349.06 L174.40 349.20 L174.65 349.38 L174.90 349.60 L175.15 349.85 L175.40 350.12 L175.65 350.39 L175.90 350.65 L176.15 350.91 L176.40 351.15 L176.65 351.37 L176.90 351.57 L177.15 351.75 L177.40 351.91 L177.65 352.06 L177.90 352.19 L178.15 352.31 L178.40 352.42 L178.65 352.52 L178.90 352.62 L179.15 352.70 L179.40 352.77 L179.65 352.83" fill="none" stroke="#ff2a24" stroke-width="1.0" stroke-linejoin="round"/>
<g font-family="Liberation Sans, sans-serif" fill="#000" stroke="#000" stroke-width="0.27">
<text x="82.10" y="152.7" font-size="7.0" text-anchor="middle">Stokes I</text>
<text x="155.20" y="152.7" font-size="7.0" text-anchor="middle">Stokes V (%)</text>
<text x="60.97" y="418.2" font-size="5.5" text-anchor="middle">-40</text>
<text x="134.43" y="418.2" font-size="5.5" text-anchor="middle">-40</text>
<text x="71.13" y="418.2" font-size="5.5" text-anchor="middle">-20</text>
<text x="144.57" y="418.2" font-size="5.5" text-anchor="middle">-20</text>
<text x="81.60" y="418.2" font-size="5.5" text-anchor="middle">0</text>
<text x="155.00" y="418.2" font-size="5.5" text-anchor="middle">0</text>
<text x="91.77" y="418.2" font-size="5.5" text-anchor="middle">20</text>
<text x="165.13" y="418.2" font-size="5.5" text-anchor="middle">20</text>
<text x="101.93" y="418.2" font-size="5.5" text-anchor="middle">40</text>
<text x="175.27" y="418.2" font-size="5.5" text-anchor="middle">40</text>
<text x="81.70" y="426.7" font-size="5.7" text-anchor="middle">V (km s<tspan font-size="3.3" dy="-2.6">-1</tspan><tspan dy="2.6">)</tspan></text>
<text x="155.30" y="426.7" font-size="5.7" text-anchor="middle">V (km s<tspan font-size="3.3" dy="-2.6">-1</tspan><tspan dy="2.6">)</tspan></text>
<text x="49.2" y="355.80" font-size="5.3" text-anchor="end">1.0</text>
<text x="49.2" y="288.20" font-size="5.3" text-anchor="end">1.1</text>
<text x="49.2" y="220.60" font-size="5.3" text-anchor="end">1.2</text>
<text x="122.3" y="403.60" font-size="5.3" text-anchor="end">-0.1</text>
<text x="122.3" y="355.80" font-size="5.3" text-anchor="end">0.0</text>
<text x="122.3" y="308.00" font-size="5.3" text-anchor="end">0.1</text>
<text x="122.3" y="260.20" font-size="5.3" text-anchor="end">0.2</text>
<text x="122.3" y="212.40" font-size="5.3" text-anchor="end">0.3</text>
<text x="122.3" y="164.60" font-size="5.3" text-anchor="end">0.4</text>
<text transform="translate(36.2 282) rotate(-90)" font-size="5.65" stroke-width="0.14" text-anchor="middle">LSD profile intensity</text>
</g>
<g font-family="Liberation Sans, sans-serif" fill="#1464ff" stroke="#1464ff" stroke-width="0.1" font-weight="bold" font-size="4.9" text-anchor="end">
<text x="110.7" y="182.05" textLength="10.4" lengthAdjust="spacingAndGlyphs">0.330</text>
<text x="110.7" y="210.25" textLength="10.4" lengthAdjust="spacingAndGlyphs">0.327</text>
<text x="110.7" y="238.45" textLength="10.4" lengthAdjust="spacingAndGlyphs">0.599</text>
<text x="110.7" y="266.65" textLength="10.4" lengthAdjust="spacingAndGlyphs">0.740</text>
<text x="110.7" y="294.85" textLength="10.4" lengthAdjust="spacingAndGlyphs">0.807</text>
<text x="110.7" y="323.05" textLength="10.4" lengthAdjust="spacingAndGlyphs">0.882</text>
<text x="110.7" y="351.25" textLength="10.4" lengthAdjust="spacingAndGlyphs">0.989</text>
</g>
</svg></body></html>
